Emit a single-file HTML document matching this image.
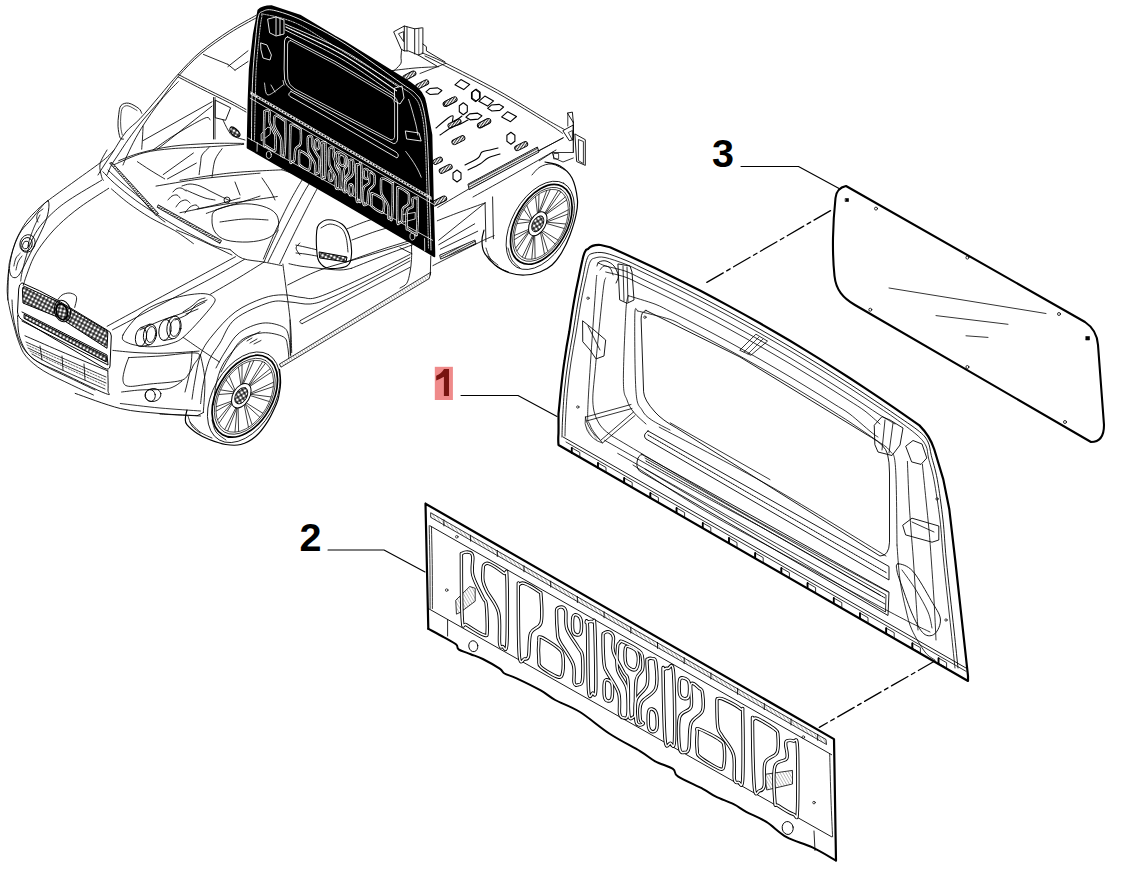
<!DOCTYPE html>
<html><head><meta charset="utf-8"><style>
html,body{margin:0;padding:0;background:#fff;width:1122px;height:870px;overflow:hidden}
svg{display:block}
.nss *{vector-effect:non-scaling-stroke}
.t{font-family:"Liberation Sans",sans-serif;font-weight:bold;font-size:39.5px}
</style></head><body>
<svg width="1122" height="870" viewBox="0 0 1122 870" fill="none" stroke="#000" stroke-width="1" stroke-linejoin="round" stroke-linecap="round">
<defs>
<pattern stroke="none" id="mesh" width="3.8" height="3.8" patternUnits="userSpaceOnUse" patternTransform="rotate(28)">
<rect width="3.8" height="3.8" fill="#222"/><circle cx="1.9" cy="1.9" r="1.4" fill="#fff"/>
</pattern>
<pattern stroke="none" id="hatch" width="2.2" height="2.2" patternUnits="userSpaceOnUse" patternTransform="rotate(62)">
<rect width="2.2" height="2.2" fill="#fff"/><rect width="1" height="2.2" fill="#333"/>
</pattern>
<pattern stroke="none" id="hatchl" width="2.6" height="2.6" patternUnits="userSpaceOnUse" patternTransform="rotate(-30)">
<rect width="2.6" height="2.6" fill="#fff"/><rect width="0.6" height="2.6" fill="#999"/>
</pattern>
</defs>
<g id="car">
<path d="M114.0,150.0 C112.2,151.7 109.9,155.1 103.4,160.3 C96.9,165.5 84.5,174.1 75.0,181.0 C65.5,187.9 53.4,196.4 46.6,201.7 C39.8,207.0 37.5,209.6 34.0,213.0 C30.6,216.4 28.6,218.6 25.9,222.4 C23.2,226.2 20.0,232.0 18.0,236.0 C16.0,240.0 15.1,242.6 13.8,246.6 C12.5,250.6 10.9,256.0 10.0,260.0 C9.1,264.0 9.0,264.0 8.6,270.7 C8.2,277.4 7.9,295.1 7.8,300.0" stroke="#000" stroke-width="0.85" fill="none"/>
<path d="M107.0,150.0 C105.8,152.3 100.9,159.6 100.0,164.0 C99.1,168.4 101.0,174.0 101.6,176.7 C102.2,179.4 103.1,179.7 103.4,180.3" stroke="#000" stroke-width="0.85" fill="none"/>
<path d="M101.7,180.2 C96.2,183.5 77.3,194.4 69.0,200.0 C60.7,205.6 56.9,208.9 51.7,213.8 C46.5,218.7 41.6,223.8 37.9,229.3 C34.2,234.8 31.9,239.7 29.3,246.6 C26.7,253.5 23.8,265.0 22.4,270.7 C21.0,276.4 21.0,279.3 20.7,281.0" stroke="#000" stroke-width="0.85" fill="none"/>
<path d="M108.7,188.3 C104.0,191.4 88.5,200.9 80.2,207.0 C71.9,213.1 64.7,219.2 58.8,224.9 C52.9,230.6 48.8,235.6 44.6,240.9 C40.5,246.2 36.9,251.3 33.9,257.0 C30.9,262.6 28.5,270.1 26.7,274.8 C24.9,279.6 23.8,283.7 23.2,285.5" stroke="#000" stroke-width="0.85" fill="none"/>
<path d="M102.9,171.7 C104.8,173.6 108.9,178.4 114.4,183.2 C119.9,188.0 128.7,195.2 135.9,200.5 C143.1,205.8 150.3,210.2 157.5,214.8 C164.7,219.4 171.8,223.7 179.0,227.8 C186.2,231.9 194.6,236.2 200.6,239.2 C206.6,242.2 210.1,244.3 215.0,246.0 C219.9,247.7 227.6,249.0 230.1,249.6" stroke="#000" stroke-width="0.85" fill="none"/>
<path d="M111.5,189.0 C114.4,191.4 122.2,198.5 128.7,203.3 C135.2,208.1 142.6,213.1 150.3,217.7 C158.0,222.2 167.5,226.3 174.7,230.6 C181.9,234.9 190.3,241.4 193.4,243.6" stroke="#000" stroke-width="0.85" fill="none"/>
<path d="M110,163 L112,162.5 L158.5,213.5 L156.5,215.5 Z" stroke="#000" stroke-width="0.8" fill="url(#hatch)"/>
<path d="M158.5,205 L221.5,240.5 L220,243.5 L157.5,207.5 Z" stroke="#000" stroke-width="0.8" fill="url(#hatch)"/>
<path d="M108.0,170.0 C110.3,172.2 116.7,178.3 122.0,183.0 C127.3,187.7 134.1,192.5 140.0,198.0 C145.9,203.5 153.3,212.0 157.5,216.0 C161.7,220.0 163.8,221.0 165.0,222.0" stroke="#000" stroke-width="0.85" fill="none"/>
<path d="M48.1,200.8 C47.0,200.4 44.5,203.4 41.8,206.5 C39.0,209.6 35.0,215.1 31.6,219.1 C28.2,223.1 24.2,226.5 21.5,230.5 C18.8,234.5 16.9,239.0 15.2,243.2 C13.5,247.4 12.3,251.6 11.4,255.8 C10.5,260.0 9.5,265.1 9.5,268.5 C9.5,271.9 10.2,274.6 11.4,276.1 C12.6,277.6 14.8,278.2 16.5,277.3 C18.2,276.4 19.2,275.0 21.5,271.0 C23.8,267.0 27.6,258.8 30.4,253.3 C33.1,247.8 35.5,243.4 38.0,238.1 C40.5,232.8 43.8,226.4 45.6,221.6 C47.4,216.8 48.3,212.5 48.7,209.0 C49.1,205.5 49.2,201.2 48.1,200.8 Z" stroke="#000" stroke-width="0.9" fill="none"/>
<path d="M43.0,209.0 C42.2,209.7 39.0,211.5 38.0,213.0 C37.0,214.5 36.7,216.5 36.7,218.0 C36.7,219.5 37.8,221.3 38.0,222.0" stroke="#000" stroke-width="0.8" fill="none"/>
<path d="M40.0,215.0 C39.2,216.7 36.7,221.2 35.0,225.0 C33.3,228.8 31.2,234.5 30.0,238.0 C28.8,241.5 28.3,244.7 28.0,246.0" stroke="#000" stroke-width="0.8" fill="none"/>
<ellipse cx="26.6" cy="244.4" rx="5.5" ry="7.0" transform="rotate(20.0 26.6 244.4)" stroke="#000" stroke-width="0.9" fill="none"/>
<ellipse cx="25.8" cy="245.0" rx="3.0" ry="4.0" transform="rotate(20.0 25.8 245.0)" stroke="#000" stroke-width="0.8" fill="none"/>
<ellipse cx="27.5" cy="243.5" rx="7.5" ry="9.0" transform="rotate(20.0 27.5 243.5)" stroke="#000" stroke-width="0.8" fill="none"/>
<path d="M13.9,266.0 C14.2,264.7 14.9,260.1 16.0,258.0 C17.1,255.9 19.5,254.1 20.2,253.3" stroke="#000" stroke-width="0.8" fill="none"/>
<path d="M16.0,270.0 C16.3,268.7 17.0,264.3 18.0,262.0 C19.0,259.7 21.3,257.0 22.0,256.0" stroke="#000" stroke-width="0.8" fill="none"/>
<path d="M256.3,15.2 C251.9,17.8 239.0,24.5 229.8,30.5 C220.6,36.5 209.6,44.1 201.0,51.3 C192.4,58.5 185.4,66.3 178.5,73.8 C171.6,81.3 165.7,88.8 159.3,96.3 C152.9,103.8 145.6,112.8 140.0,118.7 C134.4,124.7 130.4,126.5 125.9,132.0 C121.4,137.6 116.5,146.5 112.9,152.0 C109.3,157.5 106.8,161.2 104.3,165.0 C101.8,168.8 99.0,173.3 98.0,175.0" stroke="#000" stroke-width="0.85" fill="none"/>
<path d="M256.3,17.8 C251.9,20.3 239.0,27.0 229.8,33.0 C220.6,39.0 209.6,46.5 201.0,53.7 C192.4,60.9 185.2,68.6 178.5,76.2 C171.8,83.8 166.8,92.2 160.9,99.5 C155.0,106.8 148.4,113.4 143.0,120.0 C137.6,126.6 133.0,132.9 128.7,138.9 C124.4,144.9 120.1,151.8 117.2,156.2 C114.3,160.5 113.2,161.9 111.5,165.0 C109.8,168.1 107.8,173.3 107.0,175.0" stroke="#000" stroke-width="0.85" fill="none"/>
<path d="M178.3,81.7 C175.8,84.3 168.3,91.3 163.2,97.5 C158.0,103.7 151.9,112.3 147.4,119.0 C142.9,125.7 139.2,131.7 135.9,137.7 C132.6,143.7 129.4,150.4 127.3,155.0 C125.1,159.6 123.7,163.3 123.0,165.0" stroke="#000" stroke-width="0.85" fill="none"/>
<path d="M178.3,74.5 C182.0,76.4 192.1,81.7 200.6,86.0 C209.1,90.3 221.7,96.4 229.3,100.3 C236.9,104.2 243.2,108.0 246.0,109.5" stroke="#000" stroke-width="0.85" fill="none"/>
<path d="M178.3,77.0 C182.0,78.9 192.1,84.2 200.6,88.5 C209.1,92.8 221.7,98.9 229.3,102.8 C236.9,106.7 243.2,110.5 246.0,112.0" stroke="#000" stroke-width="0.85" fill="none"/>
<path d="M203.4,54.4 L227.9,64.4" stroke="#000" stroke-width="0.85" fill="none"/>
<path d="M227.9,66.6 L248.0,50.8" stroke="#000" stroke-width="0.85" fill="none"/>
<path d="M235.0,70.2 L248.0,61.5" stroke="#000" stroke-width="0.85" fill="none"/>
<path d="M227.9,64.4 L235.0,70.2" stroke="#000" stroke-width="0.85" fill="none"/>
<path d="M141.7,113.3 C141.2,112.5 141.0,110.2 138.8,108.5 C136.6,106.8 131.7,103.7 128.7,103.2 C125.7,102.7 122.7,103.6 121.0,105.5 C119.3,107.4 119.2,111.2 118.7,114.7 C118.2,118.2 117.8,122.4 118.0,126.2 C118.2,130.0 119.2,135.6 120.1,137.7 C121.0,139.8 122.9,138.8 123.5,139.0" stroke="#000" stroke-width="0.9" fill="none"/>
<path d="M137.0,110.5 C135.5,109.7 130.4,106.2 128.0,105.8 C125.6,105.4 123.7,106.3 122.5,108.0 C121.3,109.7 121.1,112.8 120.8,116.0 C120.5,119.2 120.5,123.8 120.8,127.0 C121.0,130.2 122.0,133.7 122.3,135.0" stroke="#000" stroke-width="0.7" fill="none"/>
<path d="M143.1,126.2 C143.0,128.2 142.7,134.2 142.5,138.0 C142.3,141.8 141.8,147.3 141.7,149.2" stroke="#000" stroke-width="0.85" fill="none"/>
<path d="M143.1,140.6 L212.0,101.8" stroke="#000" stroke-width="0.85" fill="none"/>
<path d="M157.5,149.2 L212.0,106.1" stroke="#000" stroke-width="0.85" fill="none"/>
<path d="M153.0,150.0 C155.8,148.0 163.8,142.0 170.0,138.0 C176.2,134.0 183.9,129.4 190.0,126.0 C196.1,122.6 203.0,118.6 206.3,117.6 C209.6,116.6 209.4,119.6 210.0,120.0" stroke="#000" stroke-width="0.85" fill="none"/>
<path d="M213.5,97.5 L213.5,139.0" stroke="#000" stroke-width="0.85" fill="none"/>
<path d="M215.0,97.5 L215.0,139.0" stroke="#000" stroke-width="0.85" fill="none"/>
<path d="M215.5,100.3 L230.6,107.8 L225.6,120.3 L215.5,117.8 Z" stroke="#000" stroke-width="0.9" fill="none"/>
<path d="M118.7,160.7 C122.2,159.4 131.2,155.4 140.0,153.0 C148.8,150.6 160.1,147.9 171.8,146.3 C183.5,144.7 198.0,144.0 210.0,143.5 C222.0,143.0 238.1,143.4 243.7,143.4" stroke="#000" stroke-width="0.85" fill="none"/>
<path d="M231.0,127.0 C232.0,126.7 234.5,127.8 236.0,129.0 C237.5,130.2 239.7,132.7 240.0,134.0 C240.3,135.3 239.2,136.8 238.0,137.0 C236.8,137.2 234.3,136.0 233.0,135.0 C231.7,134.0 230.3,132.3 230.0,131.0 C229.7,129.7 230.0,127.3 231.0,127.0 Z" stroke="#000" stroke-width="1.1" fill="url(#mesh)"/>
<path d="M223.0,120.0 C223.8,121.7 226.3,127.3 228.0,130.0 C229.7,132.7 230.2,134.3 233.0,136.0 C235.8,137.7 243.0,139.3 245.0,140.0" stroke="#000" stroke-width="0.85" fill="none"/>
<path d="M114.4,164.5 C119.2,162.6 133.5,155.6 143.1,153.0 C152.7,150.4 162.2,149.6 171.8,148.7 C181.4,147.8 188.6,148.0 200.6,147.3 C212.6,146.6 236.5,144.9 243.7,144.4" stroke="#000" stroke-width="0.85" fill="none"/>
<path d="M156.0,186.1 C163.4,184.9 186.0,180.8 200.6,178.9 C215.2,177.0 233.8,175.6 243.7,174.6 C253.6,173.6 257.3,173.4 260.0,173.2" stroke="#000" stroke-width="0.85" fill="none"/>
<path d="M137.4,161.7 C139.5,163.1 145.4,167.1 150.0,170.0 C154.6,172.9 162.2,177.4 164.7,178.9" stroke="#000" stroke-width="0.85" fill="none"/>
<path d="M163.2,174.6 L193.4,153.0" stroke="#000" stroke-width="0.85" fill="none"/>
<path d="M167.5,178.9 L196.3,163.1" stroke="#000" stroke-width="0.85" fill="none"/>
<path d="M209.2,147.3 C208.0,148.6 203.4,152.4 202.0,155.0 C200.6,157.6 201.1,159.8 200.6,163.1 C200.1,166.4 199.3,172.7 199.1,174.6" stroke="#000" stroke-width="0.85" fill="none"/>
<path d="M222.1,148.7 C220.9,150.6 216.7,155.2 215.0,160.0 C213.3,164.8 212.5,174.6 212.0,177.5" stroke="#000" stroke-width="0.85" fill="none"/>
<path d="M173.0,192.0 C173.5,191.5 174.7,189.7 176.0,189.0 C177.3,188.3 179.3,187.7 181.0,188.0 C182.7,188.3 185.2,190.5 186.0,191.0" stroke="#000" stroke-width="0.85" fill="none"/>
<path d="M168.0,200.0 C168.7,199.3 170.5,196.8 172.0,196.0 C173.5,195.2 175.7,194.7 177.0,195.0 C178.3,195.3 179.5,197.5 180.0,198.0" stroke="#000" stroke-width="0.85" fill="none"/>
<path d="M176.0,207.0 C176.7,206.2 178.3,203.2 180.0,202.0 C181.7,200.8 184.3,199.8 186.0,200.0 C187.7,200.2 189.3,202.5 190.0,203.0" stroke="#000" stroke-width="0.85" fill="none"/>
<path d="M185.0,213.0 C185.8,212.0 188.2,208.3 190.0,207.0 C191.8,205.7 194.5,204.8 196.0,205.0 C197.5,205.2 198.5,207.5 199.0,208.0" stroke="#000" stroke-width="0.85" fill="none"/>
<path d="M182.0,186.0 C183.3,185.7 187.0,184.0 190.0,184.0 C193.0,184.0 196.7,184.8 200.0,186.0 C203.3,187.2 206.7,189.3 210.0,191.0 C213.3,192.7 216.8,194.4 220.0,196.0 C223.2,197.6 227.8,199.8 229.3,200.5" stroke="#000" stroke-width="0.85" fill="none"/>
<path d="M186.0,190.0 C187.5,190.7 191.8,192.7 195.0,194.0 C198.2,195.3 201.7,197.0 205.0,198.0 C208.3,199.0 213.3,199.7 215.0,200.0" stroke="#000" stroke-width="0.85" fill="none"/>
<path d="M206.3,213.4 C209.4,212.3 218.6,209.1 225.0,207.0 C231.4,204.9 239.2,202.8 245.0,201.0 C250.8,199.2 257.5,196.9 260.0,196.1" stroke="#000" stroke-width="0.85" fill="none"/>
<path d="M197.0,209.0 C200.0,208.3 207.8,206.8 215.0,205.0 C222.2,203.2 235.8,199.2 240.0,198.0" stroke="#000" stroke-width="0.85" fill="none"/>
<circle cx="227.0" cy="200.0" r="3.0" stroke="#000" stroke-width="0.85" fill="none"/>
<path d="M21.6,283 Q19,284 18.7,289 L17.5,312 Q18,318 24,321 L104,368 Q109.5,371 110,366 L111.3,336 Q111.5,332 107,330 L57.5,300.2 L40,291 Z" stroke="#000" stroke-width="1" fill="none"/>
<path d="M24,286.5 Q22,287 22.5,292 L23,303 L60,318 L107,348.3 L107.8,333 Q108,331 105,329.5 L72,310 L57.5,301.5 Z" stroke="#000" stroke-width="1" fill="url(#mesh)"/>
<path d="M24.4,314.5 L106.3,356.2 L106.3,362 L24.4,318.5 Z" stroke="#000" stroke-width="1" fill="url(#mesh)"/>
<path d="M22,312 L107,355 L108,365 L22,321" stroke="#000" stroke-width="1" fill="none"/>
<ellipse cx="61.8" cy="311.7" rx="5.5" ry="8.0" transform="rotate(-15.0 61.8 311.7)" stroke="#000" stroke-width="1.8" fill="url(#mesh)"/>
<ellipse cx="62.5" cy="311.0" rx="8.0" ry="11.0" transform="rotate(-15.0 62.5 311.0)" stroke="#000" stroke-width="1" fill="none"/>
<path d="M57.5,300.2 C58.2,299.3 60.1,296.2 62.0,295.0 C63.9,293.8 66.8,293.0 69.0,293.0 C71.2,293.0 73.7,294.0 75.0,295.0 C76.3,296.0 76.6,296.9 76.6,299.0 C76.5,301.1 75.0,306.0 74.7,307.4" stroke="#000" stroke-width="0.85" fill="none"/>
<path d="M8.6,270.0 C8.4,273.6 7.0,284.8 7.2,291.5 C7.4,298.2 8.8,304.2 10.0,310.2 C11.2,316.2 13.0,322.2 14.4,327.5 C15.8,332.8 16.8,337.0 18.7,341.8 C20.6,346.6 21.8,351.4 25.9,356.2 C30.0,361.0 35.5,365.8 43.1,370.6 C50.8,375.4 63.4,380.9 71.8,385.0 C80.2,389.1 89.8,393.3 93.4,395.0" stroke="#000" stroke-width="0.85" fill="none"/>
<path d="M12.0,300.0 C12.2,302.5 12.3,310.0 13.0,315.0 C13.7,320.0 14.7,325.2 16.0,330.0 C17.3,334.8 18.7,339.7 21.0,344.0 C23.3,348.3 26.0,352.3 30.0,356.0 C34.0,359.7 38.3,362.3 45.0,366.0 C51.7,369.7 61.7,374.0 70.0,378.0 C78.3,382.0 90.8,388.0 95.0,390.0" stroke="#000" stroke-width="0.85" fill="none"/>
<path d="M17.5,315.7 C17.9,319.5 17.5,331.2 20.0,338.3 C22.5,345.4 25.5,352.5 32.6,358.3 C39.7,364.1 50.6,367.5 62.7,373.4 C74.8,379.2 97.8,390.6 105.3,393.4 C112.8,396.2 107.6,393.8 108.0,390.0 C108.4,386.2 107.8,374.1 107.8,370.9" stroke="#000" stroke-width="0.9" fill="none"/>
<path d="M25.0,335.8 C30.8,338.3 46.2,345.1 60.0,351.0 C73.8,356.9 99.8,367.6 107.8,370.9" stroke="#000" stroke-width="0.9" fill="none"/>
<path d="M26.0,342.0 C31.7,344.5 46.7,351.2 60.0,357.0 C73.3,362.8 98.3,373.7 106.0,377.0" stroke="#000" stroke-width="0.8" fill="none"/>
<path d="M28.0,348.0 C33.3,350.5 47.0,357.2 60.0,363.0 C73.0,368.8 98.3,379.7 106.0,383.0" stroke="#000" stroke-width="0.8" fill="none"/>
<path d="M32.0,354.0 C36.7,356.5 47.8,363.2 60.0,369.0 C72.2,374.8 97.5,385.7 105.0,389.0" stroke="#000" stroke-width="0.8" fill="none"/>
<path d="M27.0,345.0 L106.0,380.0" stroke="#000" stroke-width="0.6" fill="none" stroke-dasharray="1.5,1.5"/>
<path d="M30.0,351.0 L106.0,386.0" stroke="#000" stroke-width="0.6" fill="none" stroke-dasharray="1.5,1.5"/>
<path d="M40.0,346.0 L42.0,360.0" stroke="#000" stroke-width="0.8" fill="none"/>
<path d="M62.0,356.0 L63.0,370.0" stroke="#000" stroke-width="0.8" fill="none"/>
<path d="M84.0,364.0 L85.0,380.0" stroke="#000" stroke-width="0.8" fill="none"/>
<path d="M75.2,393.4 C82.7,395.9 106.2,405.1 120.3,408.5 C134.4,411.9 146.6,412.2 160.0,413.5 C173.4,414.8 193.8,415.6 200.5,416.0" stroke="#000" stroke-width="0.9" fill="none"/>
<path d="M120.3,403.5 C126.9,404.2 146.6,406.8 160.0,408.0 C173.4,409.2 193.8,410.5 200.5,411.0" stroke="#000" stroke-width="0.8" fill="none"/>
<path d="M123.0,335.0 C125.4,329.7 135.0,317.7 143.1,311.6 C151.2,305.6 162.2,301.7 171.8,298.7 C181.4,295.7 193.7,293.9 200.6,293.6 C207.5,293.4 211.6,295.1 213.5,297.2 C215.4,299.2 216.6,299.7 212.0,305.9 C207.4,312.1 192.9,328.4 186.2,334.6 C179.5,340.8 177.8,341.2 171.8,343.2 C165.8,345.2 157.5,346.8 150.3,346.8 C143.1,346.8 133.2,345.2 128.7,343.2 C124.1,341.2 120.6,340.3 123.0,335.0 Z" stroke="#000" stroke-width="0.85" fill="none"/>
<path d="M140.0,330.0 C143.3,328.5 152.5,324.0 160.0,321.0 C167.5,318.0 177.5,315.2 185.0,312.0 C192.5,308.8 201.7,303.7 205.0,302.0" stroke="#000" stroke-width="0.85" fill="none"/>
<path d="M175.0,320.0 C177.2,319.0 184.5,316.5 188.0,314.0 C191.5,311.5 192.8,307.3 196.0,305.0 C199.2,302.7 205.2,300.8 207.0,300.0" stroke="#000" stroke-width="0.85" fill="none"/>
<path d="M183.0,312.0 C184.5,311.0 189.3,308.0 192.0,306.0 C194.7,304.0 196.8,301.3 199.0,300.0 C201.2,298.7 204.0,298.3 205.0,298.0" stroke="#000" stroke-width="0.85" fill="none"/>
<path d="M186.0,314.0 L198.0,309.0" stroke="#000" stroke-width="0.85" fill="none"/>
<ellipse cx="141.0" cy="337.0" rx="5.5" ry="9.5" transform="rotate(10.0 141.0 337.0)" stroke="#000" stroke-width="0.9" fill="none"/>
<ellipse cx="150.0" cy="334.5" rx="6.5" ry="10.5" transform="rotate(10.0 150.0 334.5)" stroke="#000" stroke-width="0.9" fill="none"/>
<ellipse cx="151.0" cy="334.5" rx="4.5" ry="8.0" transform="rotate(10.0 151.0 334.5)" stroke="#000" stroke-width="0.8" fill="none"/>
<path d="M141.0,327.5 L150.0,324.0" stroke="#000" stroke-width="0.8" fill="none"/>
<path d="M141.0,346.5 L149.0,345.0" stroke="#000" stroke-width="0.8" fill="none"/>
<ellipse cx="165.0" cy="330.0" rx="6.0" ry="10.5" transform="rotate(10.0 165.0 330.0)" stroke="#000" stroke-width="0.9" fill="none"/>
<ellipse cx="174.0" cy="327.5" rx="7.0" ry="11.5" transform="rotate(10.0 174.0 327.5)" stroke="#000" stroke-width="0.9" fill="none"/>
<ellipse cx="175.0" cy="327.5" rx="5.0" ry="9.0" transform="rotate(10.0 175.0 327.5)" stroke="#000" stroke-width="0.8" fill="none"/>
<path d="M165.0,319.5 L174.0,316.0" stroke="#000" stroke-width="0.8" fill="none"/>
<path d="M164.0,340.5 L172.0,339.0" stroke="#000" stroke-width="0.8" fill="none"/>
<path d="M183.3,337.5 C186.1,339.4 194.0,344.9 200.0,349.0 C206.0,353.1 216.1,359.8 219.3,361.9" stroke="#000" stroke-width="0.85" fill="none"/>
<path d="M192.0,399.2 C192.5,396.0 193.6,387.4 195.0,380.0 C196.4,372.6 197.8,362.0 200.6,354.7 C203.4,347.4 206.2,343.1 212.0,336.0 C217.8,328.9 226.7,318.3 235.2,312.0 C243.7,305.7 254.8,301.2 262.8,298.3 C270.8,295.4 276.9,294.9 283.4,294.8 C289.9,294.7 296.2,297.1 302.0,297.5 C307.8,297.9 308.6,300.1 318.3,297.0 C328.0,293.9 344.7,286.1 360.0,279.0 C375.3,271.9 401.7,258.6 410.0,254.5" stroke="#000" stroke-width="0.85" fill="none"/>
<path d="M200.6,403.6 C201.0,400.5 201.6,392.2 203.0,385.0 C204.4,377.8 206.4,367.5 209.2,360.5 C212.0,353.5 215.7,349.9 220.0,343.0 C224.3,336.1 226.9,325.8 235.2,319.0 C243.5,312.2 260.6,305.2 269.7,302.4 C278.8,299.6 283.2,301.7 290.0,302.0 C296.8,302.3 303.5,304.7 310.2,304.0 C316.9,303.3 320.0,302.2 330.0,298.0 C340.0,293.8 356.7,285.7 370.0,279.0 C383.3,272.3 403.3,261.2 410.0,257.7" stroke="#000" stroke-width="0.85" fill="none"/>
<path d="M213.5,405.0 C213.9,401.7 214.6,391.5 216.0,385.0 C217.4,378.5 219.3,371.7 222.0,366.2 C224.7,360.7 228.4,356.3 232.0,352.0 C235.6,347.7 239.0,343.7 243.7,340.3 C248.4,336.9 257.3,333.1 260.0,331.7" stroke="#000" stroke-width="0.85" fill="none"/>
<path d="M112.9,350.4 C116.6,350.8 127.6,352.0 135.0,352.5 C142.4,353.0 150.0,353.3 157.5,353.3 C165.0,353.3 173.1,352.9 180.0,352.5 C186.9,352.1 195.9,351.3 199.1,351.1" stroke="#000" stroke-width="0.85" fill="none"/>
<path d="M128.7,357.6 C133.9,357.3 148.5,356.7 160.0,356.0 C171.5,355.3 192.2,351.6 197.7,353.3 C203.2,355.0 194.4,362.6 193.0,366.0 C191.6,369.4 191.1,371.0 189.0,373.4 C186.9,375.8 187.0,378.8 180.5,380.6 C174.0,382.4 158.6,383.1 150.0,384.0 C141.4,384.9 133.2,386.9 128.7,386.3 C124.2,385.7 123.6,383.7 123.0,380.6 C122.4,377.6 124.0,371.8 125.0,368.0 C126.0,364.2 128.1,359.3 128.7,357.6" stroke="#000" stroke-width="0.85" fill="none"/>
<path d="M121.6,392.0 C124.7,391.7 132.8,390.5 140.0,390.0 C147.2,389.5 158.9,389.9 164.7,389.2 C170.5,388.5 172.1,387.4 175.0,386.0 C177.9,384.6 180.8,381.8 182.0,381.0" stroke="#000" stroke-width="0.85" fill="none"/>
<ellipse cx="150.3" cy="395.5" rx="5.0" ry="6.0" transform="rotate(-10.0 150.3 395.5)" stroke="#000" stroke-width="0.85" fill="none"/>
<ellipse cx="153.0" cy="395.0" rx="8.0" ry="6.5" transform="rotate(-10.0 153.0 395.0)" stroke="#000" stroke-width="0.85" fill="none"/>
<path d="M192.0,351.8 C191.8,354.0 191.7,360.3 191.0,365.0 C190.3,369.7 189.0,375.5 188.0,380.0 C187.0,384.5 185.5,390.0 185.0,392.0" stroke="#000" stroke-width="0.85" fill="none"/>
<path d="M279.5,369.3 C279.7,371.5 280.7,378.4 280.6,382.7 C280.5,387.0 279.7,391.5 279.0,395.0 C278.3,398.5 278.4,399.3 276.5,403.7 C274.6,408.1 271.1,416.1 267.6,421.6 C264.1,427.1 260.1,432.7 255.6,436.5 C251.1,440.3 245.7,443.2 240.7,444.5 C235.7,445.8 230.9,445.3 225.7,444.5 C220.5,443.7 214.0,441.3 209.3,439.5 C204.6,437.7 201.0,436.0 197.3,433.5 C193.6,431.0 188.9,427.1 186.9,424.6 C184.9,422.1 185.4,421.0 185.4,418.6 C185.4,416.2 186.7,411.4 187.0,410.0" stroke="#000" stroke-width="1.2" fill="none"/>
<path d="M190.0,422.0 C191.7,423.7 196.3,429.3 200.0,432.0 C203.7,434.7 210.0,437.0 212.0,438.0" stroke="#000" stroke-width="0.8" fill="none"/>
<path d="M188.0,416.0 C188.7,417.7 190.0,423.2 192.0,426.0 C194.0,428.8 198.7,431.8 200.0,433.0" stroke="#000" stroke-width="0.8" fill="none"/>
<path d="M212.0,420.0 C212.7,422.0 213.7,428.7 216.0,432.0 C218.3,435.3 224.3,438.7 226.0,440.0" stroke="#000" stroke-width="0.8" fill="none"/>
<ellipse cx="243.8" cy="397.2" rx="49.3" ry="30.9" transform="rotate(-60.0 243.8 397.2)" stroke="#000" stroke-width="0.8" fill="none"/>
<ellipse cx="244.8" cy="396.2" rx="44.4" ry="27.8" transform="rotate(-60.0 244.8 396.2)" stroke="#000" stroke-width="1.7" fill="none"/>
<ellipse cx="244.8" cy="396.2" rx="41.3" ry="25.9" transform="rotate(-60.0 244.8 396.2)" stroke="#000" stroke-width="0.7" fill="none"/>
<ellipse cx="244.8" cy="396.2" rx="39.1" ry="24.5" transform="rotate(-60.0 244.8 396.2)" stroke="#000" stroke-width="0.6" fill="none"/>
<path d="M248.8,384.6 L262.5,361.9 M265.2,363.5 L249.5,385.2" stroke="#000" stroke-width="0.75"/>
<path d="M249.7,385.4 L270.1,368.8 M271.6,372.0 L250.3,386.1" stroke="#000" stroke-width="0.75"/>
<path d="M251.4,392.7 L273.3,382.3 M273.1,386.7 L251.2,394.0" stroke="#000" stroke-width="0.75"/>
<path d="M251.1,394.4 L270.9,396.9 M269.1,401.5 L250.7,395.7" stroke="#000" stroke-width="0.75"/>
<path d="M246.6,403.1 L262.6,413.1 M259.6,417.0 L245.6,404.2" stroke="#000" stroke-width="0.75"/>
<path d="M245.4,404.4 L252.0,424.4 M248.4,427.0 L244.3,405.3" stroke="#000" stroke-width="0.75"/>
<path d="M238.1,408.0 L238.6,431.2 M235.0,431.7 L237.1,408.0" stroke="#000" stroke-width="0.75"/>
<path d="M236.8,407.9 L227.8,430.7 M224.9,429.3 L235.9,407.7" stroke="#000" stroke-width="0.75"/>
<path d="M232.3,403.7 L219.2,422.9 M217.8,419.7 L232.0,402.6" stroke="#000" stroke-width="0.75"/>
<path d="M232.0,402.3 L216.3,411.0 M216.4,406.7 L231.8,401.1" stroke="#000" stroke-width="0.75"/>
<path d="M233.5,393.3 L219.1,394.5 M220.9,389.9 L234.2,392.0" stroke="#000" stroke-width="0.75"/>
<path d="M234.4,391.7 L226.3,380.2 M229.3,376.2 L235.1,390.4" stroke="#000" stroke-width="0.75"/>
<path d="M240.9,384.8 L238.4,367.4 M242.0,364.9 L242.0,384.3" stroke="#000" stroke-width="0.75"/>
<path d="M242.3,384.2 L250.2,361.4 M253.8,360.7 L243.3,383.8" stroke="#000" stroke-width="0.75"/>
<ellipse cx="241.3" cy="395.7" rx="13.3" ry="8.3" transform="rotate(-60.0 241.3 395.7)" stroke="#000" stroke-width="1.0" fill="#fff"/>
<ellipse cx="241.3" cy="395.7" rx="8.9" ry="5.6" transform="rotate(-60.0 241.3 395.7)" stroke="#000" stroke-width="0.8" fill="url(#mesh)"/>
<path d="M216.0,368.0 C217.5,365.3 221.1,357.9 225.0,352.0 C228.9,346.1 233.0,337.6 239.3,332.8 C245.6,328.0 255.5,324.0 262.8,323.1 C270.1,322.2 279.0,324.7 283.4,327.2 C287.8,329.7 287.9,333.7 289.0,338.3 C290.1,342.9 290.1,352.1 290.3,354.8" stroke="#000" stroke-width="0.85" fill="none"/>
<path d="M221.0,372.0 C222.5,369.3 226.5,361.4 230.0,356.0 C233.5,350.6 236.5,343.6 242.0,339.7 C247.5,335.8 255.9,333.3 262.8,332.8 C269.7,332.3 279.3,334.6 283.4,336.9 C287.5,339.2 286.7,342.7 287.6,346.6 C288.5,350.5 288.8,358.0 289.0,360.3" stroke="#000" stroke-width="0.85" fill="none"/>
<path d="M197.3,415.6 L203.3,412.6" stroke="#000" stroke-width="0.85" fill="none"/>
<path d="M160.0,414.1 C163.3,414.2 173.8,414.8 180.0,415.0 C186.2,415.2 194.4,415.5 197.3,415.6" stroke="#000" stroke-width="0.85" fill="none"/>
<path d="M200.3,354.4 C201.1,358.6 204.3,370.1 204.8,379.8 C205.3,389.5 203.6,407.1 203.3,412.6" stroke="#000" stroke-width="0.85" fill="none"/>
<path d="M290.0,320.0 L290.7,355.9" stroke="#000" stroke-width="0.85" fill="none"/>
<path d="M545.0,162.0 C547.5,162.7 555.5,163.3 560.0,166.0 C564.5,168.7 569.1,172.4 572.0,178.0 C574.9,183.6 576.7,193.1 577.4,199.3 C578.1,205.5 577.2,209.1 576.0,215.0 C574.8,220.9 572.3,228.8 570.0,235.0 C567.7,241.2 565.0,247.0 562.0,252.0 C559.0,257.0 555.7,261.7 552.0,265.0 C548.3,268.3 544.5,270.3 540.0,272.0 C535.5,273.7 530.0,274.8 525.0,275.0 C520.0,275.2 515.0,274.7 510.0,273.0 C505.0,271.3 499.3,268.5 495.0,265.0 C490.7,261.5 486.2,256.2 484.0,252.0 C481.8,247.8 482.0,243.7 482.0,240.0 C482.0,236.3 483.7,231.7 484.0,230.0" stroke="#000" stroke-width="1.2" fill="none"/>
<path d="M488.0,256.0 C489.3,257.7 492.7,263.3 496.0,266.0 C499.3,268.7 506.0,271.0 508.0,272.0" stroke="#000" stroke-width="0.8" fill="none"/>
<path d="M486.0,248.0 C486.7,249.7 488.0,255.2 490.0,258.0 C492.0,260.8 496.7,263.8 498.0,265.0" stroke="#000" stroke-width="0.8" fill="none"/>
<path d="M508.0,248.0 C508.7,250.0 510.0,256.7 512.0,260.0 C514.0,263.3 518.7,266.7 520.0,268.0" stroke="#000" stroke-width="0.8" fill="none"/>
<ellipse cx="540.3" cy="225.3" rx="48.1" ry="28.5" transform="rotate(-60.8 540.3 225.3)" stroke="#000" stroke-width="0.8" fill="none"/>
<ellipse cx="541.3" cy="224.3" rx="43.3" ry="25.7" transform="rotate(-60.8 541.3 224.3)" stroke="#000" stroke-width="1.7" fill="none"/>
<ellipse cx="541.3" cy="224.3" rx="40.3" ry="23.9" transform="rotate(-60.8 541.3 224.3)" stroke="#000" stroke-width="0.7" fill="none"/>
<ellipse cx="541.3" cy="224.3" rx="38.1" ry="22.6" transform="rotate(-60.8 541.3 224.3)" stroke="#000" stroke-width="0.6" fill="none"/>
<path d="M545.0,212.8 L558.2,190.7 M560.7,192.1 L545.6,213.4" stroke="#000" stroke-width="0.75"/>
<path d="M545.8,213.6 L565.2,197.0 M566.6,200.0 L546.3,214.3" stroke="#000" stroke-width="0.75"/>
<path d="M547.3,220.6 L568.1,209.9 M567.9,214.1 L547.1,221.9" stroke="#000" stroke-width="0.75"/>
<path d="M547.0,222.2 L565.7,224.0 M564.1,228.5 L546.6,223.5" stroke="#000" stroke-width="0.75"/>
<path d="M542.7,230.8 L557.9,240.0 M555.0,243.9 L541.8,231.8" stroke="#000" stroke-width="0.75"/>
<path d="M541.5,232.1 L547.8,251.2 M544.4,253.8 L540.6,233.0" stroke="#000" stroke-width="0.75"/>
<path d="M534.7,235.8 L535.1,258.2 M531.8,258.9 L533.8,235.8" stroke="#000" stroke-width="0.75"/>
<path d="M533.5,235.8 L525.0,258.1 M522.4,256.9 L532.7,235.6" stroke="#000" stroke-width="0.75"/>
<path d="M529.3,231.8 L517.1,250.9 M515.8,247.8 L529.1,230.8" stroke="#000" stroke-width="0.75"/>
<path d="M529.0,230.5 L514.5,239.6 M514.6,235.4 L528.9,229.3" stroke="#000" stroke-width="0.75"/>
<path d="M530.6,221.8 L517.2,223.6 M519.0,219.1 L531.2,220.5" stroke="#000" stroke-width="0.75"/>
<path d="M531.4,220.2 L524.1,209.5 M526.9,205.6 L532.1,219.0" stroke="#000" stroke-width="0.75"/>
<path d="M537.5,213.4 L535.5,196.8 M539.0,194.3 L538.5,212.8" stroke="#000" stroke-width="0.75"/>
<path d="M538.8,212.7 L546.7,190.6 M550.1,189.8 L539.8,212.3" stroke="#000" stroke-width="0.75"/>
<ellipse cx="537.8" cy="223.8" rx="13.0" ry="7.7" transform="rotate(-60.8 537.8 223.8)" stroke="#000" stroke-width="1.0" fill="#fff"/>
<ellipse cx="537.8" cy="223.8" rx="8.7" ry="5.1" transform="rotate(-60.8 537.8 223.8)" stroke="#000" stroke-width="0.8" fill="url(#mesh)"/>
<path d="M532.0,175.0 C533.3,173.7 536.7,168.8 540.0,167.0 C543.3,165.2 547.8,163.5 552.0,164.0 C556.2,164.5 562.8,169.0 565.0,170.0" stroke="#000" stroke-width="0.85" fill="none"/>
<path d="M263.4,259.0 C265.3,254.5 270.9,241.0 275.0,232.0 C279.1,223.0 283.8,213.2 288.0,205.0 C292.2,196.8 297.5,187.6 300.5,182.6 C303.5,177.6 305.1,176.3 306.0,175.0" stroke="#000" stroke-width="0.85" fill="none"/>
<path d="M279.7,263.7 C281.8,259.4 287.8,246.6 292.0,238.0 C296.2,229.4 300.9,220.1 305.0,212.0 C309.1,203.9 313.9,194.7 316.7,189.5 C319.5,184.3 321.1,182.4 322.0,181.0" stroke="#000" stroke-width="0.85" fill="none"/>
<path d="M268.0,262.0 C270.3,257.3 277.3,243.2 282.0,234.0 C286.7,224.8 291.9,214.7 296.0,207.0 C300.1,199.3 303.8,192.5 306.5,188.0 C309.2,183.5 311.1,181.3 312.0,180.0" stroke="#000" stroke-width="0.85" fill="none"/>
<path d="M319.0,224.3 C320.9,222.4 324.4,219.7 328.3,219.7 C332.2,219.7 338.7,221.6 342.2,224.3 C345.7,227.0 347.6,230.9 349.2,235.9 C350.8,240.9 351.9,249.4 351.5,254.4 C351.1,259.4 350.8,263.7 346.9,266.0 C343.0,268.3 332.9,269.1 328.3,268.3 C323.7,267.5 320.9,264.5 319.0,261.4 C317.1,258.3 317.1,254.8 316.7,249.8 C316.3,244.8 316.3,235.4 316.7,231.2 C317.1,226.9 317.1,226.2 319.0,224.3 Z" stroke="#000" stroke-width="1.1" fill="none"/>
<path d="M321.0,228.0 C322.5,227.3 326.7,224.0 330.0,224.0 C333.3,224.0 338.3,225.8 341.0,228.0 C343.7,230.2 344.8,233.0 346.0,237.0 C347.2,241.0 347.7,249.5 348.0,252.0" stroke="#000" stroke-width="0.85" fill="none"/>
<path d="M319.5,252 L347,257 L346,262 L320,258 Z" stroke="#000" stroke-width="1" fill="url(#mesh)"/>
<path d="M295.9,245.1 C297.4,245.4 301.5,246.2 305.0,247.0 C308.5,247.8 314.8,249.3 316.7,249.8" stroke="#000" stroke-width="0.85" fill="none"/>
<path d="M296.0,253.0 C297.5,253.2 301.6,253.5 305.0,254.0 C308.4,254.5 314.8,255.7 316.7,256.0" stroke="#000" stroke-width="0.85" fill="none"/>
<path d="M300.0,243.0 C299.3,243.8 296.0,246.0 296.0,248.0 C296.0,250.0 299.3,253.8 300.0,255.0" stroke="#000" stroke-width="0.85" fill="none"/>
<path d="M289.0,263.7 C290.8,264.1 295.0,265.2 300.0,266.0 C305.0,266.8 312.3,267.6 319.0,268.3 C325.7,269.0 334.6,270.0 340.0,270.0 C345.4,270.0 349.6,268.6 351.5,268.3" stroke="#000" stroke-width="0.85" fill="none"/>
<path d="M351.5,268.3 C356.2,266.4 370.0,260.9 380.0,257.0 C390.0,253.1 403.4,248.2 411.7,245.1 C420.0,242.0 426.9,239.3 430.0,238.2" stroke="#000" stroke-width="0.85" fill="none"/>
<path d="M346.0,262.0 C351.7,260.0 369.1,253.7 380.0,250.0 C390.9,246.3 403.4,242.7 411.7,240.0 C420.0,237.3 426.9,235.0 430.0,234.0" stroke="#000" stroke-width="0.85" fill="none"/>
<path d="M282.9,264.1 C283.4,268.1 285.0,280.2 286.1,288.3 C287.2,296.4 288.5,305.4 289.3,312.4 C290.1,319.4 290.5,323.4 290.9,330.1 C291.3,336.8 291.6,348.9 291.7,352.6" stroke="#000" stroke-width="0.85" fill="none"/>
<path d="M279.7,363.9 L430.8,272.2 L429.2,278.6 L281.3,367 Z" stroke="#000" stroke-width="0.8" fill="url(#hatchl)"/>
<path d="M411.5,244.8 C411.5,247.2 411.8,254.7 411.5,259.3 C411.2,263.9 410.8,268.2 410.0,272.2 C409.2,276.2 408.4,280.8 406.7,283.4 C405.0,286.0 401.1,287.2 400.0,288.0" stroke="#000" stroke-width="0.85" fill="none"/>
<path d="M287.7,285.0 C293.1,282.5 307.9,274.5 320.0,270.0 C332.1,265.5 345.3,262.5 360.0,258.0 C374.7,253.5 400.2,245.7 408.3,243.2" stroke="#000" stroke-width="0.85" fill="none"/>
<path d="M300.6,320.4 L410,260.9 M302.2,323.6 L410,267.3 M300.6,320.4 Q298,322.5 302.2,323.6" stroke="#000" stroke-width="0.8" fill="none"/>
<path d="M216.0,210.0 C220.7,207.3 232.3,204.7 240.0,204.0 C247.7,203.3 256.0,204.3 262.0,206.0 C268.0,207.7 273.3,210.3 276.0,214.0 C278.7,217.7 279.3,224.0 278.0,228.0 C276.7,232.0 273.0,235.7 268.0,238.0 C263.0,240.3 255.0,241.7 248.0,242.0 C241.0,242.3 231.5,241.7 226.0,240.0 C220.5,238.3 217.3,235.3 215.0,232.0 C212.7,228.7 211.8,223.7 212.0,220.0 C212.2,216.3 211.3,212.7 216.0,210.0 Z" stroke="#000" stroke-width="0.85" fill="none"/>
<path d="M180.0,212.7 C186.7,211.4 203.8,207.7 220.0,205.0 C236.2,202.3 267.8,197.9 277.3,196.5" stroke="#000" stroke-width="0.85" fill="none"/>
<path d="M220.0,222.0 C224.2,221.5 237.0,219.3 245.0,219.0 C253.0,218.7 264.2,219.8 268.0,220.0" stroke="#000" stroke-width="0.85" fill="none"/>
<path d="M180.0,180.3 C188.3,179.1 213.0,174.8 230.0,173.0 C247.0,171.2 273.3,170.3 282.0,169.8" stroke="#000" stroke-width="0.85" fill="none"/>
<path d="M282.0,169.8 C285.0,170.8 294.0,173.8 300.0,176.0 C306.0,178.2 315.0,181.8 318.0,183.0" stroke="#000" stroke-width="0.85" fill="none"/>
<path d="M262.0,178.0 C263.3,180.0 267.8,186.3 270.0,190.0 C272.2,193.7 274.2,198.3 275.0,200.0" stroke="#000" stroke-width="0.85" fill="none"/>
<path d="M235.0,182.0 L240.0,195.0" stroke="#000" stroke-width="0.85" fill="none"/>
<path d="M346.9,228.9 C350.8,227.4 361.1,222.8 370.0,220.0 C378.9,217.2 395.0,213.3 400.0,212.0" stroke="#000" stroke-width="0.85" fill="none"/>
<path d="M352.0,240.0 C356.7,238.3 370.3,233.0 380.0,230.0 C389.7,227.0 401.7,224.2 410.0,222.0 C418.3,219.8 426.7,217.8 430.0,217.0" stroke="#000" stroke-width="0.85" fill="none"/>
<path d="M394.0,31.6 L404.3,26.0 L404.3,50.9 L401.6,49.5 Z" stroke="#000" stroke-width="0.9" fill="none"/>
<path d="M398.8,33.6 L403.6,31.6 L403.6,41.2 Z" stroke="#000" stroke-width="0.8" fill="none"/>
<path d="M404.3,26.0 L414.7,28.8 L422.2,27.8" stroke="#000" stroke-width="0.9" fill="none"/>
<path d="M407.0,27.0 L407.0,51.0" stroke="#000" stroke-width="0.8" fill="none"/>
<path d="M414.7,28.8 L414.7,54.0" stroke="#000" stroke-width="0.9" fill="none"/>
<path d="M418.8,28.5 L418.8,54.5" stroke="#000" stroke-width="0.6" fill="none"/>
<path d="M422.9,28.0 L422.9,53.6" stroke="#000" stroke-width="0.9" fill="none"/>
<path d="M404.3,50.9 L408.4,50.9 L418.1,55.0 L422.2,53.6" stroke="#000" stroke-width="0.9" fill="none"/>
<path d="M422.9,44.0 L426.4,46.7 L426.4,50.9 L445.0,61.9" stroke="#000" stroke-width="0.9" fill="none"/>
<path d="M418.1,55.0 L436.7,66.0" stroke="#000" stroke-width="0.9" fill="none"/>
<path d="M401.6,49.5 C401.5,50.8 401.1,54.7 401.0,57.0 C400.9,59.3 401.8,61.2 400.9,63.3 C399.9,65.4 396.8,68.1 395.3,69.5 C393.8,70.9 392.5,71.2 391.9,71.6" stroke="#000" stroke-width="0.9" fill="none"/>
<path d="M422.2,52.9 C425.9,54.5 432.1,56.5 444.7,62.7 C457.3,68.9 480.6,80.7 497.6,90.2 C514.6,99.7 535.6,113.1 546.7,119.6 C557.8,126.1 561.4,127.8 564.3,129.4" stroke="#000" stroke-width="0.85" fill="none"/>
<path d="M425.0,56.0 C428.3,57.6 432.6,59.5 444.7,65.7 C456.8,71.9 480.6,83.7 497.6,93.2 C514.6,102.7 535.9,115.9 546.7,122.6 C557.5,129.3 559.8,131.5 562.4,133.3" stroke="#000" stroke-width="0.85" fill="none"/>
<path d="M567.8,113.0 L572.4,112.1 L573.3,122.2 Z" stroke="#000" stroke-width="0.9" fill="none"/>
<path d="M567.8,113.0 L567.8,126.0" stroke="#000" stroke-width="0.8" fill="none"/>
<path d="M563.2,130.5 L573.3,125.0 L573.3,139.7 L569.7,140.6 Z" stroke="#000" stroke-width="0.9" fill="none"/>
<path d="M568.7,132.3 L572.4,130.5 L572.4,139.7 Z" stroke="#000" stroke-width="0.7" fill="none"/>
<path d="M573.3,122.0 L573.3,152.0" stroke="#000" stroke-width="1.1" fill="none"/>
<path d="M575.2,134.1 L585.3,139.7 L585.3,165.4 L577.0,161.7 Z" stroke="#000" stroke-width="0.9" fill="none"/>
<path d="M578.8,139.7 L583.4,141.5 L583.4,163.6 L578.8,160.8 Z" stroke="#000" stroke-width="0.8" fill="none"/>
<path d="M539.3,160.8 L552.2,152.5 L573.3,152.5" stroke="#000" stroke-width="0.8" fill="none"/>
<path d="M552.2,152.5 L554.0,158.0 L563.0,162.0 L573.3,158.0" stroke="#000" stroke-width="0.8" fill="none"/>
<path d="M554.0,153.5 L558.6,153.5 L558.6,158.9 L554.0,158.9 Z" stroke="#000" stroke-width="0.7" fill="none"/>
<path d="M520.0,160.8 L563.2,137.8" stroke="#000" stroke-width="0.8" fill="none"/>
<path d="M563.2,137.8 C557.7,140.8 540.5,149.8 530.0,155.5 C519.5,161.2 509.5,166.8 500.0,172.0 C490.5,177.2 483.5,180.6 473.1,186.5 C462.7,192.4 443.6,203.9 437.7,207.4" stroke="#000" stroke-width="0.85" fill="none"/>
<path d="M556.0,150.0 C551.7,152.5 539.3,159.7 530.0,165.0 C520.7,170.3 509.5,176.7 500.0,182.0 C490.5,187.3 477.5,194.5 473.0,197.0" stroke="#000" stroke-width="0.85" fill="none"/>
<path d="M391.8,70.6 C395.7,70.2 407.2,68.7 415.0,68.0 C422.8,67.3 434.8,66.9 438.8,66.7" stroke="#000" stroke-width="0.85" fill="none"/>
<rect x="402.4" y="73.0" width="14.0" height="5.0" rx="2.5" transform="rotate(-27.0 409.4 75.5)" stroke="#000" stroke-width="0.9" fill="url(#hatch)"/>
<rect x="415.2" y="81.8" width="14.0" height="5.0" rx="2.5" transform="rotate(-27.0 422.2 84.3)" stroke="#000" stroke-width="0.9" fill="url(#hatch)"/>
<rect x="442.6" y="99.5" width="14.0" height="5.0" rx="2.5" transform="rotate(-27.0 449.6 102.0)" stroke="#000" stroke-width="0.9" fill="url(#hatch)"/>
<rect x="447.5" y="121.0" width="14.0" height="5.0" rx="2.5" transform="rotate(-27.0 454.5 123.5)" stroke="#000" stroke-width="0.9" fill="url(#hatch)"/>
<rect x="451.4" y="137.7" width="14.0" height="5.0" rx="2.5" transform="rotate(-27.0 458.4 140.2)" stroke="#000" stroke-width="0.9" fill="url(#hatch)"/>
<rect x="476.9" y="121.0" width="14.0" height="5.0" rx="2.5" transform="rotate(-27.0 483.9 123.5)" stroke="#000" stroke-width="0.9" fill="url(#hatch)"/>
<rect x="514.2" y="143.6" width="14.0" height="5.0" rx="2.5" transform="rotate(-27.0 521.2 146.1)" stroke="#000" stroke-width="0.9" fill="url(#hatch)"/>
<rect x="443.6" y="98.8" width="14.0" height="5.0" rx="2.5" transform="rotate(-27.0 450.6 101.3)" stroke="#000" stroke-width="0.9" fill="url(#hatch)"/>
<rect x="477.3" y="120.5" width="14.0" height="5.0" rx="2.5" transform="rotate(-27.0 484.3 123.0)" stroke="#000" stroke-width="0.9" fill="url(#hatch)"/>
<rect x="438.7" y="166.3" width="14.0" height="5.0" rx="2.5" transform="rotate(-27.0 445.7 168.8)" stroke="#000" stroke-width="0.9" fill="url(#hatch)"/>
<rect x="432.7" y="158.3" width="10.0" height="5.0" rx="2.5" transform="rotate(-27.0 437.7 160.8)" stroke="#000" stroke-width="0.9" fill="url(#hatch)"/>
<rect x="431.3" y="198.5" width="16.0" height="5.0" rx="2.5" transform="rotate(-27.0 439.3 201.0)" stroke="#000" stroke-width="0.9" fill="url(#hatch)"/>
<path d="M425.9,91.2 L429.9,88.2 L437.9,88.2 L441.9,91.2 L437.9,94.2 L429.9,94.2 Z" transform="rotate(-5.0 433.9 91.2)" stroke="#000" stroke-width="1.1" fill="none"/>
<path d="M465.9,116.5 L469.9,113.5 L477.9,113.5 L481.9,116.5 L477.9,119.5 L469.9,119.5 Z" transform="rotate(-5.0 473.9 116.5)" stroke="#000" stroke-width="1.1" fill="none"/>
<path d="M487.6,107.7 L491.6,104.7 L499.6,104.7 L503.6,107.7 L499.6,110.7 L491.6,110.7 Z" transform="rotate(-5.0 495.6 107.7)" stroke="#000" stroke-width="1.1" fill="none"/>
<path d="M476.1,89.1 L480.1,92.1 L480.1,98.1 L476.1,101.1 L472.1,98.1 L472.1,92.1 Z" stroke="#000" stroke-width="1.1" fill="none"/>
<path d="M463.3,102.8 L467.3,105.8 L467.3,111.8 L463.3,114.8 L459.3,111.8 L459.3,105.8 Z" stroke="#000" stroke-width="1.1" fill="none"/>
<path d="M510.9,132.3 L514.9,135.3 L514.9,141.3 L510.9,144.3 L506.9,141.3 L506.9,135.3 Z" stroke="#000" stroke-width="1.1" fill="none"/>
<path d="M475.5,89.6 L479.5,92.6 L479.5,98.6 L475.5,101.6 L471.5,98.6 L471.5,92.6 Z" stroke="#000" stroke-width="1.1" fill="none"/>
<path d="M457.0,170.0 L461.0,173.0 L461.0,179.0 L457.0,182.0 L453.0,179.0 L453.0,173.0 Z" stroke="#000" stroke-width="1.1" fill="none"/>
<path d="M454.9,84.8 L463.7,89.6 L469.7,84.4 L460.9,79.6 Z" stroke="#000" stroke-width="1.1" fill="none"/>
<path d="M478.8,101.3 L487.6,106.1 L493.6,100.9 L484.8,96.1 Z" stroke="#000" stroke-width="1.1" fill="none"/>
<path d="M501.7,116.9 L510.5,121.7 L516.5,116.5 L507.7,111.7 Z" stroke="#000" stroke-width="1.1" fill="none"/>
<path d="M420.0,73.5 L445.7,63.4" stroke="#000" stroke-width="0.8" fill="none"/>
<path d="M468.3,184 L537.4,147 L539,152 L469.5,189.5 Z" stroke="#000" stroke-width="0.9" fill="url(#hatch)"/>
<path d="M436.0,128.0 C438.0,126.3 445.2,120.0 448.0,118.0 C450.8,116.0 452.2,115.3 453.0,116.0 C453.8,116.7 451.5,122.0 453.0,122.0 C454.5,122.0 460.5,117.0 462.0,116.0" stroke="#000" stroke-width="1.1" fill="none"/>
<path d="M440.0,135.0 C442.0,133.7 449.0,128.7 452.0,127.0 C455.0,125.3 455.3,126.2 458.0,125.0 C460.7,123.8 466.3,120.8 468.0,120.0" stroke="#000" stroke-width="1.1" fill="none"/>
<path d="M465.0,165.0 C467.2,163.8 475.2,160.2 478.0,158.0 C480.8,155.8 480.0,153.3 482.0,152.0 C484.0,150.7 487.3,150.7 490.0,150.0 C492.7,149.3 496.7,148.3 498.0,148.0" stroke="#000" stroke-width="1.1" fill="none"/>
<path d="M468.0,170.0 C470.0,169.0 476.7,166.0 480.0,164.0 C483.3,162.0 484.7,159.7 488.0,158.0 C491.3,156.3 498.0,154.7 500.0,154.0" stroke="#000" stroke-width="1.1" fill="none"/>
<path d="M437.3,220.8 C441.1,219.3 452.0,215.0 460.0,212.0 C468.0,209.0 480.9,204.4 485.1,202.9" stroke="#000" stroke-width="0.85" fill="none"/>
<path d="M438.8,240.2 L485.1,202.9" stroke="#000" stroke-width="0.85" fill="none"/>
<path d="M485.1,202.9 L485.9,241.7" stroke="#000" stroke-width="0.85" fill="none"/>
<path d="M492.6,196.9 L493.4,238.7" stroke="#000" stroke-width="0.85" fill="none"/>
<path d="M438.8,244.7 L474.7,223.8" stroke="#000" stroke-width="0.85" fill="none"/>
<path d="M440.3,249.2 L477.7,231.2" stroke="#000" stroke-width="0.85" fill="none"/>
<path d="M440,255 L475,240 L476,244 L441,259 Z" stroke="#000" stroke-width="0.8" fill="url(#hatch)"/>
<path d="M432.9,265.6 C437.4,263.3 451.5,256.2 460.0,252.0 C468.5,247.8 478.0,242.9 483.7,240.2 C489.4,237.5 492.4,236.4 494.1,235.7" stroke="#000" stroke-width="0.85" fill="none"/>
<path d="M400.0,247.7 L412.0,253.7" stroke="#000" stroke-width="0.85" fill="none"/>
<path d="M430.8,256.0 L430.3,275.0" stroke="#000" stroke-width="0.85" fill="none"/>
<path d="M107.1,326.3 C114.2,322.4 134.5,311.4 150.0,303.0 C165.5,294.6 185.8,283.7 200.0,276.0 C214.2,268.3 229.6,259.9 235.5,256.7" stroke="#000" stroke-width="0.85" fill="none"/>
<path d="M112.5,329.8 C120.4,325.7 143.8,313.5 160.0,305.0 C176.2,296.5 195.9,286.6 210.0,279.0 C224.1,271.4 238.7,262.7 244.4,259.4" stroke="#000" stroke-width="0.85" fill="none"/>
<path d="M210.5,294.2 C215.4,291.3 231.1,282.4 240.0,277.0 C248.9,271.6 260.0,264.6 264.0,262.1" stroke="#000" stroke-width="0.85" fill="none"/>
<path d="M230.1,249.6 C232.2,251.1 236.9,256.4 242.6,258.5 C248.2,260.6 257.5,260.9 264.0,262.1 C270.5,263.3 278.8,265.0 281.8,265.6" stroke="#000" stroke-width="0.85" fill="none"/>
<path d="M264.0,262.1 C265.0,259.8 267.6,253.3 270.0,248.0 C272.4,242.7 276.9,233.0 278.3,230.0" stroke="#000" stroke-width="0.85" fill="none"/>
<path d="M176.6,230.0 C180.5,231.7 190.8,235.8 200.0,240.0 C209.2,244.2 226.6,252.5 231.9,255.0" stroke="#000" stroke-width="0.85" fill="none"/>
<path d="M247.0,341.0 L252.0,338.0" stroke="#000" stroke-width="0.8" fill="none"/>
<path d="M250.0,343.0 L257.0,339.0" stroke="#000" stroke-width="0.8" fill="none"/>
<path d="M254.0,344.0 L261.0,340.5" stroke="#000" stroke-width="0.8" fill="none"/>
</g>
<g id="bp">
<path d="M258.2,10.3 Q262,6 271.4,6 L300,15.5 L335,36.5 L345,42 L404,78.7 Q416,86 421.2,92.5 Q425,98 425.8,104 L431.6,135 L433,200 L434.5,252 L434.5,256.5 L340,201 L247.4,147.8 L248.4,100 L249.6,69 L253.6,34.5 Z" stroke="#000" stroke-width="1.5" fill="#000"/>
<path d="M251.5,140.0 C251.6,133.3 251.6,111.8 251.9,100.0 C252.2,88.2 252.6,79.0 253.2,69.0 C253.8,59.0 254.8,48.7 255.6,40.0 C256.4,31.3 257.2,21.8 258.3,17.0 C259.4,12.2 259.9,12.6 262.5,11.5 C265.1,10.4 267.0,8.8 273.7,10.3 C280.4,11.8 290.6,14.9 302.5,20.5 C314.4,26.1 328.5,33.3 345.0,43.8 C361.5,54.3 389.9,75.2 401.7,83.5 C413.4,91.8 412.1,89.9 415.5,93.5 C418.9,97.1 420.5,98.1 422.4,105.0 C424.3,111.9 425.8,119.2 427.0,135.0 C428.2,150.8 428.8,180.8 429.5,200.0 C430.2,219.2 430.8,241.7 431.0,250.0" stroke="#fff" stroke-width="0.9" fill="none"/>
<path d="M254.5,140.0 C254.6,133.3 255.0,111.8 255.3,100.0 C255.6,88.2 255.6,78.7 256.2,69.0 C256.8,59.3 257.7,50.6 258.6,42.0 C259.5,33.4 260.6,22.1 261.7,17.5 C262.8,12.9 259.3,13.5 265.1,14.5 C270.9,15.5 285.1,18.2 296.7,23.5 C308.3,28.8 317.9,36.1 335.0,46.5 C352.1,56.9 386.4,77.8 399.4,86.0 C412.4,94.2 409.8,92.5 413.2,96.0 C416.6,99.5 418.1,100.8 420.0,107.3 C421.9,113.8 423.5,119.5 424.7,135.0 C425.9,150.4 426.6,181.2 427.2,200.0 C427.8,218.8 428.3,240.0 428.5,248.0" stroke="#fff" stroke-width="0.8" fill="none" stroke-dasharray="1.5,1.2"/>
<path d="M285.2,24.1 C295.0,28.6 325.4,40.7 344.2,51.1 C363.0,61.5 389.2,80.8 398.2,86.7" stroke="#fff" stroke-width="0.9" fill="none"/>
<path d="M285.2,29.9 C294.6,34.8 323.6,48.3 341.9,59.1 C360.2,69.9 386.0,88.8 394.8,94.8" stroke="#fff" stroke-width="0.9" fill="none"/>
<path d="M286.0,27.0 C295.5,31.7 324.6,44.4 343.0,55.0 C361.4,65.6 387.6,84.8 396.5,90.7" stroke="#fff" stroke-width="1.2" fill="none" stroke-dasharray="0.8,1"/>
<path d="M268.0,19.0 L276.0,17.0 L284.0,20.0 L284.0,34.0 L276.0,36.0 L270.0,33.0 Z" stroke="#fff" stroke-width="0.9" fill="none"/>
<path d="M276.0,18.0 L276.0,35.0" stroke="#fff" stroke-width="0.9" fill="none"/>
<path d="M280.0,19.0 L280.0,35.0" stroke="#fff" stroke-width="0.9" fill="none"/>
<path d="M261.0,43.0 L267.0,45.0 L271.4,55.0 L270.0,60.0 L263.0,58.0 L261.0,50.0 Z" stroke="#fff" stroke-width="0.9" fill="none"/>
<path d="M394.8,88.0 L402.0,86.0 L404.0,98.0 L400.0,104.0 L395.0,101.0 Z" stroke="#fff" stroke-width="0.9" fill="none"/>
<path d="M405.7,131.0 L419.0,133.0 L421.2,141.0 L407.0,139.0 Z" stroke="#fff" stroke-width="0.9" fill="none"/>
<path d="M287.5,36.8 L335,61.4 L394.8,97.1 Q397.5,99 397.6,104 L397.6,138 Q397.5,143.5 393.6,143.6 L293.3,90.8 Q285.5,86 284.6,79 L284.1,69 L284.5,41 Q285,37 287.5,36.8 Z" stroke="#fff" stroke-width="0.9" fill="none"/>
<path d="M290.5,40.5 L335,64 L392,98 Q394.5,100 394.6,104 L394.6,136 Q394.5,140 391,139.8 L295,89 Q288.5,85 287.8,79 L287.4,69 L287.6,44 Q288,40.5 290.5,40.5 Z" stroke="#fff" stroke-width="0.8" fill="none"/>
<path d="M291,91.5 L335,116.5 L396,152 Q400,155 397,158 L335,122 L290,96.5 Q287,94 291,91.5 Z" stroke="#fff" stroke-width="0.9" fill="none"/>
<path d="M264.5,83.0 C265.1,85.0 264.9,94.7 268.0,95.0 C271.1,95.3 280.5,86.7 283.0,85.0" stroke="#fff" stroke-width="0.8" fill="none"/>
<path d="M271.0,85.0 L275.0,92.0" stroke="#fff" stroke-width="0.8" fill="none"/>
<path d="M283.0,80.5 L284.0,85.0" stroke="#fff" stroke-width="0.8" fill="none"/>
<path d="M405.7,151.4 C406.8,152.8 409.9,156.9 412.0,160.0 C414.1,163.1 416.5,167.1 418.0,170.0 C419.5,172.9 420.7,176.0 421.2,177.2" stroke="#fff" stroke-width="0.8" fill="none"/>
<path d="M408.6,99.4 C409.2,101.2 410.8,105.7 412.0,110.0 C413.2,114.3 415.0,120.8 416.0,125.0 C417.0,129.2 417.5,133.3 417.8,135.0" stroke="#fff" stroke-width="0.8" fill="none"/>
<g class="nss" transform="matrix(0.46356 -0.01116 -0.01220 0.48343 57.292 -151.196)">
<path d="M431.0,512.9 L826.0,739.5" stroke="#fff" stroke-width="0.8" fill="none"/>
<path d="M431.0,517.5 L826.5,744.5" stroke="#fff" stroke-width="0.8" fill="none"/>
<path d="M431.0,515.2 L826.0,742.0" stroke="#fff" stroke-width="1.3" fill="none" stroke-dasharray="0.8,2.5"/>
<path d="M430.0,525.8 L831.6,754.7" stroke="#fff" stroke-width="0.8" fill="none"/>
<path d="M427.4,608.0 L831.6,829.0" stroke="#fff" stroke-width="0.8" fill="none"/>
<path d="M447.6,618.0 L447.6,636.0" stroke="#fff" stroke-width="0.8" fill="none"/>
<path d="M814.0,825.0 L815.0,850.0" stroke="#fff" stroke-width="0.8" fill="none"/>
<ellipse cx="473.3" cy="644.0" rx="5.5" ry="7.5" transform="rotate(-10.0 473.3 644.0)" stroke="#fff" stroke-width="0.8" fill="none"/>
<ellipse cx="787.7" cy="820.0" rx="5.5" ry="7.5" transform="rotate(-10.0 787.7 820.0)" stroke="#fff" stroke-width="0.8" fill="none"/>
<path d="M456,600 L469.7,586.5 L475.2,588.3 L475.2,601.2 L460.5,612.2 L456.8,614 Z" stroke="#fff" stroke-width="0.8" fill="none"/>
<path d="M765.2,774.3 L792.5,770.4 L792.5,784 L767.1,789.9 Z" stroke="#fff" stroke-width="0.8" fill="none"/>
<g><path d="M462.4,553.4 C463.8,552.0 467.9,551.8 469.6,552.4 C471.3,553.0 472.3,553.2 472.8,557.0 C473.3,560.8 471.1,568.4 472.8,575.2 C474.5,582.0 480.9,593.1 483.1,597.9 C485.3,602.7 485.5,598.6 486.2,604.1 C486.9,609.6 487.5,625.8 487.2,631.0 C486.9,636.2 487.6,636.1 484.1,635.1 C480.7,634.1 470.1,627.2 466.5,624.8 C462.9,622.4 463.2,631.4 462.4,620.7 C461.5,610.0 461.4,571.9 461.4,560.7 C461.4,549.5 461.0,554.8 462.4,553.4 Z" stroke="#fff" stroke-width="2.4" fill="none" vector-effect="non-scaling-stroke"/>
<path d="M484.1,564.8 C485.1,563.9 486.0,562.4 489.3,563.8 C492.6,565.2 500.9,570.9 503.8,573.1 C506.7,575.3 506.4,565.5 506.9,577.2 C507.4,588.9 507.6,631.9 506.9,643.4 C506.2,654.9 503.9,646.5 502.7,646.5 C501.5,646.5 500.3,649.1 499.6,643.4 C498.9,637.7 500.7,621.0 498.6,612.4 C496.5,603.8 489.8,596.9 487.2,591.7 C484.6,586.5 483.8,585.2 483.1,581.4 C482.4,577.6 482.9,571.8 483.1,569.0 C483.3,566.2 483.1,565.7 484.1,564.8 Z" stroke="#fff" stroke-width="2.4" fill="none" vector-effect="non-scaling-stroke"/>
<path d="M519.3,584.5 C520.3,583.5 521.2,582.2 524.5,583.4 C527.8,584.6 536.1,589.6 538.9,591.7 C541.6,593.8 540.6,590.6 541.0,595.8 C541.4,601.0 542.7,616.5 541.0,622.7 C539.3,628.9 532.8,627.6 530.7,633.1 C528.6,638.6 529.6,651.5 528.6,655.8 C527.6,660.1 526.0,658.9 524.5,658.9 C523.0,658.9 520.3,667.3 519.3,655.8 C518.3,644.2 518.3,601.5 518.3,589.6 C518.3,577.7 518.3,585.5 519.3,584.5 Z" stroke="#fff" stroke-width="2.4" fill="none" vector-effect="non-scaling-stroke"/>
<path d="M541.0,637.2 C544.1,638.3 553.9,644.5 557.5,647.5 C561.1,650.5 561.8,650.9 562.7,655.0 C563.6,659.1 563.5,668.7 562.7,672.4 C561.9,676.1 561.6,677.9 558.0,677.0 C554.4,676.1 544.2,669.8 541.0,667.0 C537.8,664.2 539.2,664.3 538.9,660.0 C538.5,655.7 538.5,644.8 538.9,641.0 C539.2,637.2 537.9,636.1 541.0,637.2 Z" stroke="#fff" stroke-width="2.4" fill="none" vector-effect="non-scaling-stroke"/>
<path d="M557.5,608.3 C558.5,607.4 561.3,606.7 562.7,607.2 C564.1,607.7 565.1,607.8 565.8,611.4 C566.5,615.0 564.8,622.9 566.9,628.9 C569.0,634.9 575.6,643.0 578.2,647.5 C580.8,652.0 581.7,650.3 582.4,655.8 C583.1,661.3 583.1,675.8 582.4,680.6 C581.7,685.4 579.6,684.4 578.2,684.8 C576.8,685.1 575.0,686.2 574.1,682.7 C573.2,679.2 575.5,671.0 573.1,664.1 C570.7,657.2 562.2,646.5 559.6,641.3 C557.0,636.1 558.0,637.9 557.5,633.1 C557.0,628.3 556.5,616.5 556.5,612.4 C556.5,608.3 556.5,609.2 557.5,608.3 Z" stroke="#fff" stroke-width="2.4" fill="none" vector-effect="non-scaling-stroke"/>
<path d="M573.0,617.0 C573.7,614.3 575.7,614.5 577.0,615.0 C578.3,615.5 580.3,617.2 581.0,620.0 C581.7,622.8 581.7,629.5 581.0,632.0 C580.3,634.5 578.3,635.2 577.0,635.0 C575.7,634.8 573.7,634.0 573.0,631.0 C572.3,628.0 572.3,619.7 573.0,617.0 Z" stroke="#fff" stroke-width="2.4" fill="none" vector-effect="non-scaling-stroke"/>
<path d="M586.5,622.7 C587.4,621.8 591.3,621.0 592.7,621.7 C594.1,622.4 594.3,615.7 594.8,626.9 C595.3,638.1 596.1,677.9 595.8,688.9 C595.4,699.9 593.9,692.6 592.7,693.0 C591.5,693.4 589.5,702.0 588.6,691.0 C587.7,680.0 587.9,638.3 587.5,626.9 C587.1,615.5 585.6,623.6 586.5,622.7 Z" stroke="#fff" stroke-width="2.4" fill="none" vector-effect="non-scaling-stroke"/>
<path d="M604.1,633.1 C605.1,632.2 607.8,631.3 609.3,632.0 C610.8,632.7 612.7,633.9 613.4,637.2 C614.1,640.5 611.7,645.8 613.4,651.7 C615.1,657.6 621.3,667.6 623.7,672.4 C626.1,677.2 627.2,673.7 627.9,680.6 C628.6,687.5 628.6,707.5 627.9,713.7 C627.2,719.9 625.1,717.9 623.7,717.9 C622.3,717.9 620.5,717.9 619.6,713.7 C618.8,709.6 620.7,699.9 618.6,693.0 C616.5,686.1 609.6,677.2 607.2,672.4 C604.8,667.6 604.8,670.0 604.1,664.1 C603.4,658.2 603.0,642.4 603.0,637.2 C603.0,632.0 603.1,634.0 604.1,633.1 Z" stroke="#fff" stroke-width="2.4" fill="none" vector-effect="non-scaling-stroke"/>
<path d="M604.5,682.0 C605.1,679.2 606.8,679.7 608.0,680.0 C609.2,680.3 611.3,681.0 612.0,684.0 C612.7,687.0 612.7,695.2 612.0,698.0 C611.3,700.8 609.2,701.2 608.0,701.0 C606.8,700.8 605.1,700.2 604.5,697.0 C603.9,693.8 603.9,684.8 604.5,682.0 Z" stroke="#fff" stroke-width="2.4" fill="none" vector-effect="non-scaling-stroke"/>
<path d="M619.6,642.8 C620.5,641.9 619.5,640.3 622.8,641.7 C626.1,643.1 636.0,648.4 639.3,651.0 C642.6,653.6 641.9,654.1 642.4,657.2 C642.9,660.3 643.4,665.8 642.4,669.6 C641.4,673.4 637.4,672.9 636.2,680.0 C635.0,687.1 635.7,705.8 635.2,712.0 C634.7,718.2 634.1,716.5 633.1,717.2 C632.1,717.9 630.0,720.8 629.0,716.0 C628.0,711.2 628.8,696.0 626.9,688.3 C625.0,680.6 619.1,676.5 617.6,669.6 C616.1,662.7 617.3,651.5 617.6,647.0 C617.9,642.5 618.7,643.7 619.6,642.8 Z" stroke="#fff" stroke-width="2.4" fill="none" vector-effect="non-scaling-stroke"/>
<path d="M625.5,648.0 C626.2,645.2 628.1,646.3 630.0,647.0 C631.9,647.7 635.7,649.2 637.0,652.0 C638.3,654.8 638.5,661.0 638.0,664.0 C637.5,667.0 636.0,670.0 634.0,670.0 C632.0,670.0 627.4,667.7 626.0,664.0 C624.6,660.3 624.8,650.8 625.5,648.0 Z" stroke="#fff" stroke-width="2.4" fill="none" vector-effect="non-scaling-stroke"/>
<path d="M647.6,659.3 C648.4,658.7 650.6,658.0 652.0,658.5 C653.4,659.0 655.2,657.4 655.8,662.4 C656.4,667.4 658.2,681.6 655.8,688.3 C653.4,695.0 644.0,697.5 641.4,702.7 C638.8,707.9 640.0,715.8 640.3,719.3 C640.6,722.8 643.6,722.4 643.4,723.4 C643.2,724.4 640.5,725.4 639.3,725.0 C638.1,724.6 636.5,725.2 636.0,721.0 C635.5,716.8 634.2,706.0 636.0,700.0 C637.8,694.0 645.2,691.3 647.0,685.0 C648.8,678.7 646.9,666.3 647.0,662.0 C647.1,657.7 646.8,659.9 647.6,659.3 Z" stroke="#fff" stroke-width="2.4" fill="none" vector-effect="non-scaling-stroke"/>
<path d="M648.6,712.0 C649.2,709.0 650.7,708.7 652.0,709.0 C653.3,709.3 655.7,710.8 656.5,714.0 C657.3,717.2 657.6,725.0 656.9,728.0 C656.2,731.0 653.9,731.9 652.5,731.7 C651.1,731.5 649.2,730.3 648.6,727.0 C648.0,723.7 648.0,715.0 648.6,712.0 Z" stroke="#fff" stroke-width="2.4" fill="none" vector-effect="non-scaling-stroke"/>
<path d="M664.1,669.6 C664.9,668.7 666.5,668.1 668.0,668.5 C669.5,668.9 672.3,659.8 673.4,671.7 C674.5,683.6 675.0,728.1 674.5,740.0 C674.0,751.9 671.9,743.1 670.3,743.1 C668.7,743.1 666.3,751.5 665.1,740.0 C663.9,728.5 663.3,685.5 663.1,673.8 C662.9,662.1 663.3,670.5 664.1,669.6 Z" stroke="#fff" stroke-width="2.4" fill="none" vector-effect="non-scaling-stroke"/>
<path d="M679.6,680.0 C680.2,677.3 681.5,677.6 683.0,677.9 C684.5,678.2 687.9,679.0 688.9,682.0 C689.9,685.0 689.7,693.2 688.9,696.0 C688.1,698.8 685.5,698.9 684.0,698.6 C682.5,698.3 680.3,697.1 679.6,694.0 C678.9,690.9 679.0,682.7 679.6,680.0 Z" stroke="#fff" stroke-width="2.4" fill="none" vector-effect="non-scaling-stroke"/>
<path d="M691.0,684.1 C692.4,681.0 697.4,686.9 699.3,688.3 C701.2,689.7 701.9,688.6 702.4,692.4 C702.9,696.2 704.3,705.8 702.4,711.0 C700.5,716.2 693.2,717.2 691.0,723.4 C688.8,729.6 689.9,743.4 688.9,748.2 C687.9,753.0 686.3,752.4 684.8,752.4 C683.2,752.4 680.5,754.1 679.6,748.2 C678.7,742.3 677.7,724.1 679.6,717.2 C681.5,710.3 689.1,712.4 691.0,706.9 C692.9,701.4 689.6,687.2 691.0,684.1 Z" stroke="#fff" stroke-width="2.4" fill="none" vector-effect="non-scaling-stroke"/>
<path d="M699.0,729.0 C702.8,730.2 715.8,737.0 720.0,740.0 C724.2,743.0 723.4,743.0 724.1,747.0 C724.8,751.0 724.8,760.4 724.1,764.0 C723.4,767.6 724.0,770.1 720.0,768.9 C716.0,767.7 703.8,760.1 700.0,757.0 C696.2,753.9 697.7,754.0 697.2,750.0 C696.7,746.0 696.9,736.5 697.2,733.0 C697.5,729.5 695.2,727.8 699.0,729.0 Z" stroke="#fff" stroke-width="2.4" fill="none" vector-effect="non-scaling-stroke"/>
<path d="M717.9,698.6 C719.1,698.1 720.3,697.9 724.1,699.6 C727.9,701.3 737.5,706.3 740.6,708.9 C743.7,711.5 742.4,703.4 742.7,715.1 C743.1,726.8 743.4,768.1 742.7,779.3 C742.0,790.5 740.0,782.4 738.6,782.4 C737.2,782.4 735.3,784.0 734.4,779.3 C733.5,774.6 735.5,761.6 733.4,754.4 C731.3,747.1 724.6,740.3 722.0,735.8 C719.4,731.3 718.8,733.0 717.9,727.5 C717.0,722.0 716.9,707.5 716.9,702.7 C716.9,697.9 716.7,699.1 717.9,698.6 Z" stroke="#fff" stroke-width="2.4" fill="none" vector-effect="non-scaling-stroke"/>
<path d="M753.5,719.5 C754.3,718.7 753.8,717.0 757.4,718.6 C761.0,720.2 771.6,726.5 775.0,729.3 C778.4,732.1 777.6,731.3 777.9,735.2 C778.2,739.1 779.0,748.2 776.9,752.8 C774.8,757.3 767.3,757.0 765.2,762.5 C763.1,768.0 765.2,781.3 764.2,786.0 C763.2,790.7 760.9,790.6 759.3,790.9 C757.7,791.2 755.5,799.1 754.4,787.9 C753.3,776.7 752.6,734.9 752.5,723.5 C752.4,712.1 752.7,720.3 753.5,719.5 Z" stroke="#fff" stroke-width="2.4" fill="none" vector-effect="non-scaling-stroke"/>
<path d="M786.7,741.0 C788.0,740.3 791.7,740.0 793.5,741.0 C795.3,742.0 796.8,735.2 797.4,746.9 C798.0,758.6 798.0,800.2 797.4,811.4 C796.8,822.6 796.8,815.3 793.5,814.3 C790.2,813.3 781.0,807.6 777.9,805.5 C774.8,803.4 775.4,808.1 774.9,801.6 C774.4,795.1 772.9,773.6 774.9,766.4 C776.9,759.2 784.9,762.2 786.7,758.6 C788.5,755.0 785.7,747.9 785.7,745.0 C785.7,742.1 785.4,741.7 786.7,741.0 Z" stroke="#fff" stroke-width="2.4" fill="none" vector-effect="non-scaling-stroke"/>
<path d="M462.4,553.4 C463.8,552.0 467.9,551.8 469.6,552.4 C471.3,553.0 472.3,553.2 472.8,557.0 C473.3,560.8 471.1,568.4 472.8,575.2 C474.5,582.0 480.9,593.1 483.1,597.9 C485.3,602.7 485.5,598.6 486.2,604.1 C486.9,609.6 487.5,625.8 487.2,631.0 C486.9,636.2 487.6,636.1 484.1,635.1 C480.7,634.1 470.1,627.2 466.5,624.8 C462.9,622.4 463.2,631.4 462.4,620.7 C461.5,610.0 461.4,571.9 461.4,560.7 C461.4,549.5 461.0,554.8 462.4,553.4 Z" stroke="#000" stroke-width="0.9" fill="none" vector-effect="non-scaling-stroke"/>
<path d="M484.1,564.8 C485.1,563.9 486.0,562.4 489.3,563.8 C492.6,565.2 500.9,570.9 503.8,573.1 C506.7,575.3 506.4,565.5 506.9,577.2 C507.4,588.9 507.6,631.9 506.9,643.4 C506.2,654.9 503.9,646.5 502.7,646.5 C501.5,646.5 500.3,649.1 499.6,643.4 C498.9,637.7 500.7,621.0 498.6,612.4 C496.5,603.8 489.8,596.9 487.2,591.7 C484.6,586.5 483.8,585.2 483.1,581.4 C482.4,577.6 482.9,571.8 483.1,569.0 C483.3,566.2 483.1,565.7 484.1,564.8 Z" stroke="#000" stroke-width="0.9" fill="none" vector-effect="non-scaling-stroke"/>
<path d="M519.3,584.5 C520.3,583.5 521.2,582.2 524.5,583.4 C527.8,584.6 536.1,589.6 538.9,591.7 C541.6,593.8 540.6,590.6 541.0,595.8 C541.4,601.0 542.7,616.5 541.0,622.7 C539.3,628.9 532.8,627.6 530.7,633.1 C528.6,638.6 529.6,651.5 528.6,655.8 C527.6,660.1 526.0,658.9 524.5,658.9 C523.0,658.9 520.3,667.3 519.3,655.8 C518.3,644.2 518.3,601.5 518.3,589.6 C518.3,577.7 518.3,585.5 519.3,584.5 Z" stroke="#000" stroke-width="0.9" fill="none" vector-effect="non-scaling-stroke"/>
<path d="M541.0,637.2 C544.1,638.3 553.9,644.5 557.5,647.5 C561.1,650.5 561.8,650.9 562.7,655.0 C563.6,659.1 563.5,668.7 562.7,672.4 C561.9,676.1 561.6,677.9 558.0,677.0 C554.4,676.1 544.2,669.8 541.0,667.0 C537.8,664.2 539.2,664.3 538.9,660.0 C538.5,655.7 538.5,644.8 538.9,641.0 C539.2,637.2 537.9,636.1 541.0,637.2 Z" stroke="#000" stroke-width="0.9" fill="none" vector-effect="non-scaling-stroke"/>
<path d="M557.5,608.3 C558.5,607.4 561.3,606.7 562.7,607.2 C564.1,607.7 565.1,607.8 565.8,611.4 C566.5,615.0 564.8,622.9 566.9,628.9 C569.0,634.9 575.6,643.0 578.2,647.5 C580.8,652.0 581.7,650.3 582.4,655.8 C583.1,661.3 583.1,675.8 582.4,680.6 C581.7,685.4 579.6,684.4 578.2,684.8 C576.8,685.1 575.0,686.2 574.1,682.7 C573.2,679.2 575.5,671.0 573.1,664.1 C570.7,657.2 562.2,646.5 559.6,641.3 C557.0,636.1 558.0,637.9 557.5,633.1 C557.0,628.3 556.5,616.5 556.5,612.4 C556.5,608.3 556.5,609.2 557.5,608.3 Z" stroke="#000" stroke-width="0.9" fill="none" vector-effect="non-scaling-stroke"/>
<path d="M573.0,617.0 C573.7,614.3 575.7,614.5 577.0,615.0 C578.3,615.5 580.3,617.2 581.0,620.0 C581.7,622.8 581.7,629.5 581.0,632.0 C580.3,634.5 578.3,635.2 577.0,635.0 C575.7,634.8 573.7,634.0 573.0,631.0 C572.3,628.0 572.3,619.7 573.0,617.0 Z" stroke="#000" stroke-width="0.9" fill="none" vector-effect="non-scaling-stroke"/>
<path d="M586.5,622.7 C587.4,621.8 591.3,621.0 592.7,621.7 C594.1,622.4 594.3,615.7 594.8,626.9 C595.3,638.1 596.1,677.9 595.8,688.9 C595.4,699.9 593.9,692.6 592.7,693.0 C591.5,693.4 589.5,702.0 588.6,691.0 C587.7,680.0 587.9,638.3 587.5,626.9 C587.1,615.5 585.6,623.6 586.5,622.7 Z" stroke="#000" stroke-width="0.9" fill="none" vector-effect="non-scaling-stroke"/>
<path d="M604.1,633.1 C605.1,632.2 607.8,631.3 609.3,632.0 C610.8,632.7 612.7,633.9 613.4,637.2 C614.1,640.5 611.7,645.8 613.4,651.7 C615.1,657.6 621.3,667.6 623.7,672.4 C626.1,677.2 627.2,673.7 627.9,680.6 C628.6,687.5 628.6,707.5 627.9,713.7 C627.2,719.9 625.1,717.9 623.7,717.9 C622.3,717.9 620.5,717.9 619.6,713.7 C618.8,709.6 620.7,699.9 618.6,693.0 C616.5,686.1 609.6,677.2 607.2,672.4 C604.8,667.6 604.8,670.0 604.1,664.1 C603.4,658.2 603.0,642.4 603.0,637.2 C603.0,632.0 603.1,634.0 604.1,633.1 Z" stroke="#000" stroke-width="0.9" fill="none" vector-effect="non-scaling-stroke"/>
<path d="M604.5,682.0 C605.1,679.2 606.8,679.7 608.0,680.0 C609.2,680.3 611.3,681.0 612.0,684.0 C612.7,687.0 612.7,695.2 612.0,698.0 C611.3,700.8 609.2,701.2 608.0,701.0 C606.8,700.8 605.1,700.2 604.5,697.0 C603.9,693.8 603.9,684.8 604.5,682.0 Z" stroke="#000" stroke-width="0.9" fill="none" vector-effect="non-scaling-stroke"/>
<path d="M619.6,642.8 C620.5,641.9 619.5,640.3 622.8,641.7 C626.1,643.1 636.0,648.4 639.3,651.0 C642.6,653.6 641.9,654.1 642.4,657.2 C642.9,660.3 643.4,665.8 642.4,669.6 C641.4,673.4 637.4,672.9 636.2,680.0 C635.0,687.1 635.7,705.8 635.2,712.0 C634.7,718.2 634.1,716.5 633.1,717.2 C632.1,717.9 630.0,720.8 629.0,716.0 C628.0,711.2 628.8,696.0 626.9,688.3 C625.0,680.6 619.1,676.5 617.6,669.6 C616.1,662.7 617.3,651.5 617.6,647.0 C617.9,642.5 618.7,643.7 619.6,642.8 Z" stroke="#000" stroke-width="0.9" fill="none" vector-effect="non-scaling-stroke"/>
<path d="M625.5,648.0 C626.2,645.2 628.1,646.3 630.0,647.0 C631.9,647.7 635.7,649.2 637.0,652.0 C638.3,654.8 638.5,661.0 638.0,664.0 C637.5,667.0 636.0,670.0 634.0,670.0 C632.0,670.0 627.4,667.7 626.0,664.0 C624.6,660.3 624.8,650.8 625.5,648.0 Z" stroke="#000" stroke-width="0.9" fill="none" vector-effect="non-scaling-stroke"/>
<path d="M647.6,659.3 C648.4,658.7 650.6,658.0 652.0,658.5 C653.4,659.0 655.2,657.4 655.8,662.4 C656.4,667.4 658.2,681.6 655.8,688.3 C653.4,695.0 644.0,697.5 641.4,702.7 C638.8,707.9 640.0,715.8 640.3,719.3 C640.6,722.8 643.6,722.4 643.4,723.4 C643.2,724.4 640.5,725.4 639.3,725.0 C638.1,724.6 636.5,725.2 636.0,721.0 C635.5,716.8 634.2,706.0 636.0,700.0 C637.8,694.0 645.2,691.3 647.0,685.0 C648.8,678.7 646.9,666.3 647.0,662.0 C647.1,657.7 646.8,659.9 647.6,659.3 Z" stroke="#000" stroke-width="0.9" fill="none" vector-effect="non-scaling-stroke"/>
<path d="M648.6,712.0 C649.2,709.0 650.7,708.7 652.0,709.0 C653.3,709.3 655.7,710.8 656.5,714.0 C657.3,717.2 657.6,725.0 656.9,728.0 C656.2,731.0 653.9,731.9 652.5,731.7 C651.1,731.5 649.2,730.3 648.6,727.0 C648.0,723.7 648.0,715.0 648.6,712.0 Z" stroke="#000" stroke-width="0.9" fill="none" vector-effect="non-scaling-stroke"/>
<path d="M664.1,669.6 C664.9,668.7 666.5,668.1 668.0,668.5 C669.5,668.9 672.3,659.8 673.4,671.7 C674.5,683.6 675.0,728.1 674.5,740.0 C674.0,751.9 671.9,743.1 670.3,743.1 C668.7,743.1 666.3,751.5 665.1,740.0 C663.9,728.5 663.3,685.5 663.1,673.8 C662.9,662.1 663.3,670.5 664.1,669.6 Z" stroke="#000" stroke-width="0.9" fill="none" vector-effect="non-scaling-stroke"/>
<path d="M679.6,680.0 C680.2,677.3 681.5,677.6 683.0,677.9 C684.5,678.2 687.9,679.0 688.9,682.0 C689.9,685.0 689.7,693.2 688.9,696.0 C688.1,698.8 685.5,698.9 684.0,698.6 C682.5,698.3 680.3,697.1 679.6,694.0 C678.9,690.9 679.0,682.7 679.6,680.0 Z" stroke="#000" stroke-width="0.9" fill="none" vector-effect="non-scaling-stroke"/>
<path d="M691.0,684.1 C692.4,681.0 697.4,686.9 699.3,688.3 C701.2,689.7 701.9,688.6 702.4,692.4 C702.9,696.2 704.3,705.8 702.4,711.0 C700.5,716.2 693.2,717.2 691.0,723.4 C688.8,729.6 689.9,743.4 688.9,748.2 C687.9,753.0 686.3,752.4 684.8,752.4 C683.2,752.4 680.5,754.1 679.6,748.2 C678.7,742.3 677.7,724.1 679.6,717.2 C681.5,710.3 689.1,712.4 691.0,706.9 C692.9,701.4 689.6,687.2 691.0,684.1 Z" stroke="#000" stroke-width="0.9" fill="none" vector-effect="non-scaling-stroke"/>
<path d="M699.0,729.0 C702.8,730.2 715.8,737.0 720.0,740.0 C724.2,743.0 723.4,743.0 724.1,747.0 C724.8,751.0 724.8,760.4 724.1,764.0 C723.4,767.6 724.0,770.1 720.0,768.9 C716.0,767.7 703.8,760.1 700.0,757.0 C696.2,753.9 697.7,754.0 697.2,750.0 C696.7,746.0 696.9,736.5 697.2,733.0 C697.5,729.5 695.2,727.8 699.0,729.0 Z" stroke="#000" stroke-width="0.9" fill="none" vector-effect="non-scaling-stroke"/>
<path d="M717.9,698.6 C719.1,698.1 720.3,697.9 724.1,699.6 C727.9,701.3 737.5,706.3 740.6,708.9 C743.7,711.5 742.4,703.4 742.7,715.1 C743.1,726.8 743.4,768.1 742.7,779.3 C742.0,790.5 740.0,782.4 738.6,782.4 C737.2,782.4 735.3,784.0 734.4,779.3 C733.5,774.6 735.5,761.6 733.4,754.4 C731.3,747.1 724.6,740.3 722.0,735.8 C719.4,731.3 718.8,733.0 717.9,727.5 C717.0,722.0 716.9,707.5 716.9,702.7 C716.9,697.9 716.7,699.1 717.9,698.6 Z" stroke="#000" stroke-width="0.9" fill="none" vector-effect="non-scaling-stroke"/>
<path d="M753.5,719.5 C754.3,718.7 753.8,717.0 757.4,718.6 C761.0,720.2 771.6,726.5 775.0,729.3 C778.4,732.1 777.6,731.3 777.9,735.2 C778.2,739.1 779.0,748.2 776.9,752.8 C774.8,757.3 767.3,757.0 765.2,762.5 C763.1,768.0 765.2,781.3 764.2,786.0 C763.2,790.7 760.9,790.6 759.3,790.9 C757.7,791.2 755.5,799.1 754.4,787.9 C753.3,776.7 752.6,734.9 752.5,723.5 C752.4,712.1 752.7,720.3 753.5,719.5 Z" stroke="#000" stroke-width="0.9" fill="none" vector-effect="non-scaling-stroke"/>
<path d="M786.7,741.0 C788.0,740.3 791.7,740.0 793.5,741.0 C795.3,742.0 796.8,735.2 797.4,746.9 C798.0,758.6 798.0,800.2 797.4,811.4 C796.8,822.6 796.8,815.3 793.5,814.3 C790.2,813.3 781.0,807.6 777.9,805.5 C774.8,803.4 775.4,808.1 774.9,801.6 C774.4,795.1 772.9,773.6 774.9,766.4 C776.9,759.2 784.9,762.2 786.7,758.6 C788.5,755.0 785.7,747.9 785.7,745.0 C785.7,742.1 785.4,741.7 786.7,741.0 Z" stroke="#000" stroke-width="0.9" fill="none" vector-effect="non-scaling-stroke"/></g>
</g>
</g>
<g id="glass">
<path d="M846,186 L1085,322 Q1097,330 1098,345 L1104,425 Q1104,442 1091,442 L855,305 C843,298 836,290 834.5,276 C833,262 832.8,250 833,238 C833.3,222 834.2,210 835.5,198 Q836.5,188 846,186 Z" stroke="#000" stroke-width="2.1" fill="none"/>
<path d="M889.0,288.0 L1046.0,313.5" stroke="#000" stroke-width="0.8" fill="none"/>
<path d="M936.0,315.6 L1008.0,324.3" stroke="#000" stroke-width="0.8" fill="none"/>
<path d="M966.0,335.8 L988.0,337.4" stroke="#000" stroke-width="0.8" fill="none"/>
<circle cx="876.0" cy="208.6" r="1.5" stroke="#000" stroke-width="0.8" fill="none"/>
<circle cx="967.4" cy="257.6" r="1.5" stroke="#000" stroke-width="0.8" fill="none"/>
<circle cx="1059.0" cy="314.0" r="1.5" stroke="#000" stroke-width="0.8" fill="none"/>
<circle cx="870.3" cy="309.7" r="1.5" stroke="#000" stroke-width="0.8" fill="none"/>
<circle cx="967.4" cy="367.0" r="1.5" stroke="#000" stroke-width="0.8" fill="none"/>
<circle cx="1065.0" cy="422.0" r="1.5" stroke="#000" stroke-width="0.8" fill="none"/>
<path d="M845.5,198.5 L848.5,198.5 L848.5,201.5 L845.5,201.5 Z" stroke="#000" stroke-width="0.6" fill="#000"/>
<path d="M1086.0,336.5 L1089.5,336.5 L1089.5,340.0 L1086.0,340.0 Z" stroke="#000" stroke-width="0.6" fill="#000"/>
</g>
<g id="p1">
<path d="M588,248.9 Q592,244.5 600.6,245 L610.0,247.2 L625.0,254.0 L640.0,260.9 L655.0,268.1 L670.0,275.4 L685.0,282.9 L700.0,290.6 L715.0,298.5 L730.0,306.6 L745.0,314.9 L760.0,323.3 L775.0,332.0 L790.0,340.8 L805.0,349.9 L820.0,359.1 L835.0,368.6 L850.0,378.2 L865.0,388.1 L880.0,398.1 L895.0,408.3 L919.4,425.4 Q930,436 934.3,449.5 L943.3,479.4 L949.3,509.3 L955.2,560 L968,676 L968,681 L558.5,445 C558,440 558.3,436 558.5,433.2 C558.6,425 558.5,420 558.5,413.9 C559.5,405 560,398 560.9,389.8 C562,380 563,370 564.5,360.8 C566,350 567.5,341 569.3,331.8 C571,320 572.5,310 574.2,300.4 C576,290 577.5,283 579,276.2 C580.5,269 581.5,264 582.6,259.3 C583.5,255 584.5,252 586.2,249.7 Z" stroke="#000" stroke-width="2.2" fill="none"/>
<path d="M562.0,437.0 C562.1,434.2 562.1,427.8 562.5,420.0 C562.9,412.2 563.6,399.7 564.5,390.0 C565.4,380.3 566.6,371.5 568.0,362.0 C569.4,352.5 571.3,343.0 573.0,333.0 C574.7,323.0 576.3,311.3 578.0,302.0 C579.7,292.7 581.5,284.2 583.0,277.0 C584.5,269.8 585.5,262.9 587.0,259.0 C588.5,255.1 589.0,254.5 592.0,253.5 C595.0,252.5 599.5,251.9 605.0,253.0 C610.5,254.1 619.2,257.7 625.0,260.0 C630.8,262.3 635.0,264.5 640.0,266.9 C645.0,269.2 650.0,271.7 655.0,274.1 C660.0,276.5 665.0,278.9 670.0,281.4 C675.0,283.9 680.0,286.4 685.0,288.9 C690.0,291.4 695.0,294.0 700.0,296.6 C705.0,299.2 710.0,301.8 715.0,304.5 C720.0,307.2 725.0,309.9 730.0,312.6 C735.0,315.3 740.0,318.1 745.0,320.9 C750.0,323.7 755.0,326.4 760.0,329.3 C765.0,332.2 770.0,335.1 775.0,338.0 C780.0,340.9 785.0,343.8 790.0,346.8 C795.0,349.8 800.0,352.8 805.0,355.9 C810.0,358.9 815.0,362.0 820.0,365.1 C825.0,368.2 830.0,371.4 835.0,374.6 C840.0,377.8 845.0,380.9 850.0,384.2 C855.0,387.4 860.0,390.8 865.0,394.1 C870.0,397.4 875.0,400.7 880.0,404.1 C885.0,407.5 888.4,409.7 895.0,414.3 C901.6,418.9 913.9,426.9 919.4,431.5 C924.9,436.1 926.0,438.0 928.0,442.0 C930.0,446.0 929.8,449.3 931.3,455.5 C932.8,461.7 935.3,468.6 937.3,479.4 C939.2,490.1 941.5,506.6 943.0,520.0 C944.5,533.4 944.5,541.7 946.3,560.0 C948.1,578.3 952.0,612.0 954.0,630.0 C956.0,648.0 957.3,661.7 958.0,668.0" stroke="#000" stroke-width="0.9" fill="none"/>
<path d="M565.0,436.0 C565.1,433.3 565.1,427.7 565.5,420.0 C565.9,412.3 566.6,399.7 567.5,390.0 C568.4,380.3 569.6,371.5 571.0,362.0 C572.4,352.5 574.3,343.0 576.0,333.0 C577.7,323.0 579.3,311.2 581.0,302.0 C582.7,292.8 584.5,284.7 586.0,278.0 C587.5,271.3 588.5,265.3 590.0,262.0 C591.5,258.7 592.5,258.8 595.0,258.0 C597.5,257.2 600.0,256.5 605.0,257.5 C610.0,258.5 619.2,261.8 625.0,264.0 C630.8,266.2 635.0,268.5 640.0,270.9 C645.0,273.2 650.0,275.7 655.0,278.1 C660.0,280.5 665.0,282.9 670.0,285.4 C675.0,287.9 680.0,290.4 685.0,292.9 C690.0,295.4 695.0,298.0 700.0,300.6 C705.0,303.2 710.0,305.8 715.0,308.5 C720.0,311.2 725.0,313.9 730.0,316.6 C735.0,319.3 740.0,322.1 745.0,324.9 C750.0,327.7 755.0,330.4 760.0,333.3 C765.0,336.2 770.0,339.1 775.0,342.0 C780.0,344.9 785.0,347.8 790.0,350.8 C795.0,353.8 800.0,356.8 805.0,359.9 C810.0,362.9 815.0,366.0 820.0,369.1 C825.0,372.2 830.0,375.4 835.0,378.6 C840.0,381.8 845.0,384.9 850.0,388.2 C855.0,391.4 860.0,394.8 865.0,398.1 C870.0,401.4 875.0,404.7 880.0,408.1 C885.0,411.5 888.8,413.8 895.0,418.3 C901.2,422.8 911.8,430.4 917.0,435.0 C922.2,439.6 924.1,442.2 926.0,446.0 C927.9,449.8 927.2,452.3 928.5,458.0 C929.8,463.7 932.1,469.7 934.0,480.0 C935.9,490.3 938.4,506.7 940.0,520.0 C941.6,533.3 941.7,541.7 943.5,560.0 C945.3,578.3 949.1,612.0 951.0,630.0 C952.9,648.0 954.3,661.7 955.0,668.0" stroke="#000" stroke-width="0.8" fill="none"/>
<path d="M598.0,262.8 C599.3,263.3 601.2,264.6 605.7,266.0 C610.2,267.4 619.3,269.0 625.0,271.0 C630.7,273.0 635.0,275.5 640.0,277.9 C645.0,280.2 650.0,282.7 655.0,285.1 C660.0,287.5 665.0,289.9 670.0,292.4 C675.0,294.9 680.0,297.4 685.0,299.9 C690.0,302.4 695.0,305.0 700.0,307.6 C705.0,310.2 710.0,312.8 715.0,315.5 C720.0,318.2 725.0,320.9 730.0,323.6 C735.0,326.3 740.0,329.1 745.0,331.9 C750.0,334.7 755.0,337.4 760.0,340.3 C765.0,343.2 770.0,346.1 775.0,349.0 C780.0,351.9 785.0,354.8 790.0,357.8 C795.0,360.8 800.0,363.8 805.0,366.9 C810.0,369.9 815.0,373.0 820.0,376.1 C825.0,379.2 830.0,382.4 835.0,385.6 C840.0,388.8 845.0,391.9 850.0,395.2 C855.0,398.4 860.0,401.8 865.0,405.1 C870.0,408.4 875.0,412.0 880.0,415.1 C885.0,418.2 892.5,422.5 895.0,424.0" stroke="#000" stroke-width="0.8" fill="none"/>
<path d="M605.7,272.0 C608.9,272.8 619.3,275.0 625.0,277.0 C630.7,279.0 635.0,281.5 640.0,283.9 C645.0,286.2 650.0,288.7 655.0,291.1 C660.0,293.5 665.0,295.9 670.0,298.4 C675.0,300.9 680.0,303.4 685.0,305.9 C690.0,308.4 695.0,311.0 700.0,313.6 C705.0,316.2 710.0,318.8 715.0,321.5 C720.0,324.2 725.0,326.9 730.0,329.6 C735.0,332.3 740.0,335.1 745.0,337.9 C750.0,340.7 755.0,343.4 760.0,346.3 C765.0,349.2 770.0,352.1 775.0,355.0 C780.0,357.9 785.0,360.8 790.0,363.8 C795.0,366.8 800.0,369.8 805.0,372.9 C810.0,375.9 815.0,379.0 820.0,382.1 C825.0,385.2 830.0,388.4 835.0,391.6 C840.0,394.8 845.0,397.9 850.0,401.2 C855.0,404.4 860.0,407.3 865.0,411.1 C870.0,414.9 877.5,421.9 880.0,424.0" stroke="#000" stroke-width="0.8" fill="none"/>
<path d="M628.4,295.7 C632.8,297.1 648.1,301.5 655.0,304.1 C661.9,306.7 665.0,308.9 670.0,311.4 C675.0,313.9 680.0,316.4 685.0,318.9 C690.0,321.4 695.0,324.0 700.0,326.6 C705.0,329.2 710.0,331.8 715.0,334.5 C720.0,337.2 725.0,339.9 730.0,342.6 C735.0,345.3 740.0,348.1 745.0,350.9 C750.0,353.7 755.0,356.4 760.0,359.3 C765.0,362.2 770.0,365.1 775.0,368.0 C780.0,370.9 785.0,373.8 790.0,376.8 C795.0,379.8 800.0,382.8 805.0,385.9 C810.0,388.9 815.0,392.0 820.0,395.1 C825.0,398.2 830.0,401.4 835.0,404.6 C840.0,407.8 844.0,409.6 850.0,414.2 C856.0,418.8 866.3,428.2 871.0,432.0 C875.7,435.8 876.8,436.2 878.0,437.0" stroke="#000" stroke-width="0.8" fill="none"/>
<path d="M637.3,310.9 C642.8,312.3 662.0,316.7 670.0,319.4 C678.0,322.1 680.0,324.4 685.0,326.9 C690.0,329.4 695.0,332.0 700.0,334.6 C705.0,337.2 710.0,339.8 715.0,342.5 C720.0,345.2 725.0,347.9 730.0,350.6 C735.0,353.3 740.0,356.1 745.0,358.9 C750.0,361.7 755.0,364.4 760.0,367.3 C765.0,370.2 770.0,373.1 775.0,376.0 C780.0,378.9 785.0,381.8 790.0,384.8 C795.0,387.8 800.0,390.8 805.0,393.9 C810.0,396.9 815.0,400.0 820.0,403.1 C825.0,406.2 830.0,409.4 835.0,412.6 C840.0,415.8 843.2,417.6 850.0,422.2 C856.8,426.8 869.3,435.2 876.0,440.0 C882.7,444.8 886.8,446.4 890.0,451.0 C893.2,455.6 894.3,451.7 895.5,467.4 C896.7,483.1 896.8,532.1 897.0,545.1" stroke="#000" stroke-width="0.8" fill="none"/>
<path d="M646,310.5 L740,357 L871.5,437.5 Q885,445 887.5,454 Q889.5,462 889.5,473 L889.5,542.2 Q889,556 880,556 L676.5,428 Q662,420 655,412 Q644,400 643.6,391.8 L641.1,319 Q641,311.5 646,310.5 Z" stroke="#000" stroke-width="0.9" fill="none"/>
<path d="M637.3,310.9 C636.9,311.7 635.0,302.4 634.8,315.9 C634.6,329.4 634.8,376.1 636.0,391.8 C637.2,407.5 639.5,405.4 642.0,410.0 C644.5,414.6 646.5,416.4 651.2,419.7 C655.9,423.0 666.9,428.3 670.0,430.0" stroke="#000" stroke-width="0.8" fill="none"/>
<path d="M628.4,295.7 C628.0,298.2 626.7,296.6 625.9,310.9 C625.1,325.2 623.2,366.8 623.4,381.7 C623.6,396.6 625.3,394.9 627.0,400.0 C628.7,405.1 630.3,408.0 633.5,412.0 C636.7,416.0 643.9,422.0 646.0,424.0" stroke="#000" stroke-width="0.8" fill="none"/>
<path d="M605.7,278.0 C605.3,280.1 604.8,275.9 603.1,290.6 C601.4,305.4 597.2,347.5 595.5,366.5 C593.8,385.5 592.2,394.8 593.0,404.5 C593.8,414.2 596.8,419.8 600.0,425.0 C603.2,430.2 610.0,434.2 612.0,436.0" stroke="#000" stroke-width="0.8" fill="none"/>
<path d="M596.8,275.4 C596.6,277.9 597.0,269.1 595.5,290.6 C594.0,312.1 588.9,382.1 588.0,404.5 C587.1,426.9 588.0,419.1 590.0,425.0 C592.0,430.9 598.3,437.5 600.0,440.0" stroke="#000" stroke-width="0.8" fill="none"/>
<path d="M597.0,266.0 C597.3,265.3 597.5,262.8 599.0,262.0 C600.5,261.2 603.5,260.3 606.0,261.0 C608.5,261.7 612.0,263.5 614.0,266.0 C616.0,268.5 618.0,273.2 618.3,276.0 C618.6,278.8 616.4,281.8 616.0,283.0" stroke="#000" stroke-width="0.9" fill="none"/>
<path d="M600.0,270.0 C600.7,269.3 602.3,266.3 604.0,266.0 C605.7,265.7 608.5,266.5 610.0,268.0 C611.5,269.5 612.5,273.8 613.0,275.0" stroke="#000" stroke-width="0.8" fill="none"/>
<path d="M618.3,264.0 L630.0,266.0 L632.0,272.0 L634.0,300.0 L627.0,303.3 L620.0,300.0 Z" stroke="#000" stroke-width="0.9" fill="none"/>
<path d="M623.0,266.0 L624.0,301.0" stroke="#000" stroke-width="0.8" fill="none"/>
<path d="M627.0,267.0 L628.0,302.0" stroke="#000" stroke-width="0.8" fill="none"/>
<path d="M582.9,321.0 L594.0,330.0 L605.7,340.0 L604.0,356.0 L596.0,358.9 L590.0,350.0 L583.0,342.0 Z" stroke="#000" stroke-width="0.9" fill="none"/>
<path d="M588.0,326.0 L600.0,350.0" stroke="#000" stroke-width="0.8" fill="none"/>
<path d="M874.5,425.0 L882.0,416.6 L890.0,420.0 L903.0,428.0 L900.0,445.0 L892.0,455.5 L878.0,452.0 L875.0,445.0 Z" stroke="#000" stroke-width="0.9" fill="none"/>
<path d="M885.0,420.0 L882.0,450.0" stroke="#000" stroke-width="0.8" fill="none"/>
<path d="M893.0,423.0 L889.0,453.0" stroke="#000" stroke-width="0.8" fill="none"/>
<path d="M906.0,446.0 L913.0,440.5 L922.0,444.0 L926.8,458.0 L921.0,464.4 L912.0,462.0 Z" stroke="#000" stroke-width="0.9" fill="none"/>
<path d="M903.0,525.0 L912.0,518.2 L938.8,526.0 L938.8,540.0 L932.0,542.2 L906.0,535.0 Z" stroke="#000" stroke-width="0.9" fill="none"/>
<path d="M912.0,522.0 L934.0,532.0" stroke="#000" stroke-width="0.8" fill="none"/>
<path d="M907.4,461.4 C907.7,467.8 908.4,488.6 909.0,500.0 C909.6,511.4 910.3,520.0 911.0,530.0 C911.7,540.0 912.6,548.3 913.4,560.0 C914.2,571.7 915.2,588.3 916.0,600.0 C916.8,611.7 917.7,625.0 918.0,630.0" stroke="#000" stroke-width="0.8" fill="none"/>
<path d="M922.4,464.4 C923.0,470.3 924.9,489.1 926.0,500.0 C927.1,510.9 928.1,520.0 929.0,530.0 C929.9,540.0 930.5,548.3 931.3,560.0 C932.1,571.7 933.2,586.7 934.0,600.0 C934.8,613.3 935.7,633.3 936.0,640.0" stroke="#000" stroke-width="0.8" fill="none"/>
<path d="M897.0,545.1 C897.5,550.9 898.5,569.2 900.0,580.0 C901.5,590.8 904.0,601.7 906.0,610.0 C908.0,618.3 908.8,623.0 912.0,630.0 C915.2,637.0 921.2,647.0 925.0,652.0 C928.8,657.0 933.3,658.7 935.0,660.0" stroke="#000" stroke-width="0.8" fill="none"/>
<path d="M585.4,417.1 L631.0,404.5" stroke="#000" stroke-width="0.8" fill="none"/>
<path d="M586.5,421.0 L632.0,408.5" stroke="#000" stroke-width="0.8" fill="none"/>
<path d="M633.5,412.0 L600.6,440.4" stroke="#000" stroke-width="0.8" fill="none"/>
<path d="M635.0,415.5 L602.5,443.0" stroke="#000" stroke-width="0.8" fill="none"/>
<path d="M585.4,417.1 L586.5,421 Q590,432 600.6,440.4 L602.5,443 Q592,440 587,430 Q584,424 585.4,417.1 Z" stroke="#000" stroke-width="0.7" fill="url(#hatchl)"/>
<path d="M648,431 L889,566.5 L889,580 L646,439 Q642,435 648,431 Z" stroke="#000" stroke-width="0.9" fill="none"/>
<path d="M648.0,435.0 L887.0,573.0" stroke="#000" stroke-width="1" fill="none" stroke-dasharray="1,1"/>
<path d="M642,454.5 L889,592 L888,615.5 L642,472.5 Q636,470 637,462 Q638,455 642,454.5 Z" stroke="#000" stroke-width="0.9" fill="none"/>
<path d="M645,458 L886,595 L885.5,612 L645,469" stroke="#000" stroke-width="0.8" fill="none"/>
<path d="M646.0,461.0 L885.0,598.0" stroke="#000" stroke-width="1" fill="none" stroke-dasharray="1,1"/>
<path d="M604.6,440.3 C620.5,449.2 672.4,478.7 700.0,494.0 C727.6,509.3 740.0,515.2 770.0,532.0 C800.0,548.8 861.7,584.5 880.0,595.0" stroke="#000" stroke-width="0.8" fill="none"/>
<path d="M617.7,453.4 C631.4,461.2 674.6,485.6 700.0,500.0 C725.4,514.4 739.2,522.7 770.0,540.0 C800.8,557.3 865.8,593.3 885.0,604.0" stroke="#000" stroke-width="0.8" fill="none"/>
<path d="M612.0,436.0 C626.7,444.7 673.7,472.7 700.0,488.0 C726.3,503.3 738.7,510.7 770.0,528.0 C801.3,545.3 868.3,581.3 888.0,592.0" stroke="#000" stroke-width="0.8" fill="none"/>
<path d="M633.0,465.0 C644.2,472.2 677.2,494.3 700.0,508.0 C722.8,521.7 738.3,529.7 770.0,547.0 C801.7,564.3 863.3,597.8 890.0,612.0 C916.7,626.2 923.3,628.7 930.0,632.0" stroke="#000" stroke-width="0.8" fill="none"/>
<path d="M659.2,427.1 C677.7,436.9 732.2,464.6 770.0,486.1 C807.8,507.6 866.7,544.4 886.0,556.0" stroke="#000" stroke-width="0.8" fill="none"/>
<path d="M670.2,422.8 L770.0,479.6" stroke="#000" stroke-width="0.8" fill="none"/>
<path d="M563.1,437.0 L966.0,668.0" stroke="#000" stroke-width="0.9" fill="none"/>
<path d="M566.0,442.0 L966.0,671.3" stroke="#000" stroke-width="0.8" fill="none"/>
<path d="M898.0,563.8 C900.6,563.8 907.3,565.1 912.8,571.2 C918.3,577.3 926.6,592.6 931.2,600.6 C935.8,608.6 939.8,613.5 940.4,619.0 C941.0,624.5 937.7,631.2 934.9,633.7 C932.1,636.2 927.5,636.8 923.8,633.7 C920.1,630.6 916.5,623.3 912.8,615.3 C909.1,607.3 904.4,593.3 901.8,585.9 C899.2,578.5 897.6,574.7 897.0,571.0 C896.4,567.3 895.4,563.8 898.0,563.8 Z" stroke="#000" stroke-width="0.9" fill="none"/>
<path d="M902.0,570.0 C904.3,573.3 911.7,583.0 916.0,590.0 C920.3,597.0 925.3,605.7 928.0,612.0 C930.7,618.3 931.3,625.3 932.0,628.0" stroke="#000" stroke-width="0.8" fill="none"/>
<path d="M571.8,447.8 L579.8,452.4 L579.8,457.6 L571.8,453.0 Z" stroke="#000" stroke-width="0.8" fill="none"/>
<path d="M571.8,447.8 L571.8,453.0" stroke="#000" stroke-width="1.8" fill="none"/>
<path d="M598.0,462.9 L606.0,467.5 L606.0,472.7 L598.0,468.1 Z" stroke="#000" stroke-width="0.8" fill="none"/>
<path d="M598.0,462.9 L598.0,468.1" stroke="#000" stroke-width="1.8" fill="none"/>
<path d="M624.2,477.9 L632.2,482.5 L632.2,487.7 L624.2,483.1 Z" stroke="#000" stroke-width="0.8" fill="none"/>
<path d="M624.2,477.9 L624.2,483.1" stroke="#000" stroke-width="1.8" fill="none"/>
<path d="M650.4,492.9 L658.4,497.5 L658.4,502.7 L650.4,498.1 Z" stroke="#000" stroke-width="0.8" fill="none"/>
<path d="M650.4,492.9 L650.4,498.1" stroke="#000" stroke-width="1.8" fill="none"/>
<path d="M676.6,507.9 L684.6,512.5 L684.6,517.7 L676.6,513.1 Z" stroke="#000" stroke-width="0.8" fill="none"/>
<path d="M676.6,507.9 L676.6,513.1" stroke="#000" stroke-width="1.8" fill="none"/>
<path d="M702.8,522.9 L710.8,527.5 L710.8,532.7 L702.8,528.1 Z" stroke="#000" stroke-width="0.8" fill="none"/>
<path d="M702.8,522.9 L702.8,528.1" stroke="#000" stroke-width="1.8" fill="none"/>
<path d="M729.0,538.0 L737.0,542.6 L737.0,547.8 L729.0,543.2 Z" stroke="#000" stroke-width="0.8" fill="none"/>
<path d="M729.0,538.0 L729.0,543.2" stroke="#000" stroke-width="1.8" fill="none"/>
<path d="M755.2,553.0 L763.2,557.6 L763.2,562.8 L755.2,558.2 Z" stroke="#000" stroke-width="0.8" fill="none"/>
<path d="M755.2,553.0 L755.2,558.2" stroke="#000" stroke-width="1.8" fill="none"/>
<path d="M781.4,568.0 L789.4,572.6 L789.4,577.8 L781.4,573.2 Z" stroke="#000" stroke-width="0.8" fill="none"/>
<path d="M781.4,568.0 L781.4,573.2" stroke="#000" stroke-width="1.8" fill="none"/>
<path d="M807.6,583.0 L815.6,587.6 L815.6,592.8 L807.6,588.2 Z" stroke="#000" stroke-width="0.8" fill="none"/>
<path d="M807.6,583.0 L807.6,588.2" stroke="#000" stroke-width="1.8" fill="none"/>
<path d="M833.8,598.0 L841.8,602.6 L841.8,607.8 L833.8,603.2 Z" stroke="#000" stroke-width="0.8" fill="none"/>
<path d="M833.8,598.0 L833.8,603.2" stroke="#000" stroke-width="1.8" fill="none"/>
<path d="M860.0,613.1 L868.0,617.7 L868.0,622.9 L860.0,618.3 Z" stroke="#000" stroke-width="0.8" fill="none"/>
<path d="M860.0,613.1 L860.0,618.3" stroke="#000" stroke-width="1.8" fill="none"/>
<path d="M886.2,628.1 L894.2,632.7 L894.2,637.9 L886.2,633.3 Z" stroke="#000" stroke-width="0.8" fill="none"/>
<path d="M886.2,628.1 L886.2,633.3" stroke="#000" stroke-width="1.8" fill="none"/>
<path d="M912.4,643.1 L920.4,647.7 L920.4,652.9 L912.4,648.3 Z" stroke="#000" stroke-width="0.8" fill="none"/>
<path d="M912.4,643.1 L912.4,648.3" stroke="#000" stroke-width="1.8" fill="none"/>
<path d="M938.6,658.1 L946.6,662.7 L946.6,667.9 L938.6,663.3 Z" stroke="#000" stroke-width="0.8" fill="none"/>
<path d="M938.6,658.1 L938.6,663.3" stroke="#000" stroke-width="1.8" fill="none"/>
<circle cx="588.0" cy="298.2" r="1.2" stroke="#000" stroke-width="0.7" fill="none"/>
<circle cx="577.8" cy="407.0" r="1.2" stroke="#000" stroke-width="0.7" fill="none"/>
<circle cx="644.9" cy="317.2" r="1.2" stroke="#000" stroke-width="0.7" fill="none"/>
<circle cx="937.0" cy="498.9" r="1.2" stroke="#000" stroke-width="0.7" fill="none"/>
<circle cx="946.0" cy="620.0" r="1.2" stroke="#000" stroke-width="0.7" fill="none"/>
<path d="M740.0,350.0 L755.9,334.2 L767.5,341.1 L751.2,355.0 Z" stroke="#000" stroke-width="0.8" fill="none"/>
<path d="M744.0,352.0 L759.0,337.0" stroke="#000" stroke-width="0.7" fill="none"/>
<path d="M748.0,354.0 L763.0,339.0" stroke="#000" stroke-width="0.7" fill="none"/>
</g>
<g id="p2">
<path d="M425.5,503.7 L834,739.1 L836,860.5 M428.3,628.8 L425.5,503.7" stroke="#000" stroke-width="2.2" fill="none"/>
<path d="M428.3,628.8 C430.9,630.2 439.5,634.7 444.1,637.3 C448.8,639.9 453.8,642.5 456.2,644.5 C458.6,646.5 456.2,647.7 458.6,649.3 C461.0,650.9 466.7,652.6 470.7,654.2 C474.7,655.8 478.0,656.6 482.8,659.0 C487.6,661.4 496.1,666.3 499.7,668.7 C503.3,671.1 501.7,671.9 504.5,673.5 C507.3,675.1 510.6,675.5 516.6,678.3 C522.6,681.1 534.3,686.8 540.7,690.4 C547.1,694.0 548.7,696.4 555.2,700.0 C561.8,703.6 570.9,706.3 580.0,712.0 C589.1,717.7 600.0,727.5 610.0,734.0 C620.0,740.5 632.5,746.6 640.0,751.1 C647.5,755.6 649.7,758.3 655.2,761.3 C660.7,764.2 669.1,766.3 672.9,768.8 C676.7,771.3 672.8,773.0 677.9,776.4 C683.0,779.8 696.9,785.7 703.2,789.1 C709.5,792.5 710.8,794.1 715.9,796.6 C721.0,799.1 728.5,801.7 733.6,804.2 C738.7,806.7 740.7,808.8 746.2,811.8 C751.7,814.8 759.7,817.7 766.4,821.9 C773.1,826.1 779.0,832.9 786.6,837.1 C794.2,841.3 803.7,843.3 811.9,847.2 C820.1,851.1 832.0,858.3 836.0,860.5" stroke="#000" stroke-width="2" fill="none"/>
<path d="M431,512.9 L826,739.5 L826.5,744.5 L431,517.5 Z" stroke="#000" stroke-width="0.8" fill="url(#hatchl)"/>
<path d="M430.0,525.8 L831.6,754.7" stroke="#000" stroke-width="0.9" fill="none"/>
<path d="M427.4,608.0 L831.6,836.8" stroke="#000" stroke-width="0.9" fill="none"/>
<path d="M429.2,525.8 C429.3,533.2 429.9,556.2 430.0,570.0 C430.1,583.8 430.1,602.1 430.1,608.5" stroke="#000" stroke-width="0.8" fill="none"/>
<path d="M431.5,527.0 C431.6,534.2 432.2,556.4 432.3,570.0 C432.4,583.6 432.4,602.1 432.4,608.5" stroke="#000" stroke-width="0.8" fill="none"/>
<path d="M829.7,754.0 C829.9,761.7 830.5,786.2 831.0,800.0 C831.5,813.8 832.3,830.7 832.6,836.8" stroke="#000" stroke-width="0.8" fill="none"/>
<path d="M447.6,619.6 L447.6,636.0" stroke="#000" stroke-width="0.85" fill="none"/>
<path d="M814.0,831.0 L815.0,850.5" stroke="#000" stroke-width="0.85" fill="none"/>
<ellipse cx="473.3" cy="646.2" rx="4.5" ry="5.5" transform="rotate(-10.0 473.3 646.2)" stroke="#000" stroke-width="0.9" fill="none"/>
<ellipse cx="787.7" cy="828.0" rx="5.5" ry="6.5" transform="rotate(-10.0 787.7 828.0)" stroke="#000" stroke-width="0.9" fill="none"/>
<circle cx="456.8" cy="536.8" r="1.3" stroke="#000" stroke-width="0.7" fill="none"/>
<circle cx="446.7" cy="590.1" r="1.3" stroke="#000" stroke-width="0.7" fill="none"/>
<circle cx="803.3" cy="737.1" r="1.3" stroke="#000" stroke-width="0.7" fill="none"/>
<circle cx="814.0" cy="802.6" r="1.3" stroke="#000" stroke-width="0.7" fill="none"/>
<path d="M456,600 L469.7,586.5 L475.2,588.3 L475.2,601.2 L460.5,612.2 L456.8,614 Z" stroke="#000" stroke-width="0.8" fill="url(#hatchl)"/>
<path d="M765.2,774.3 L792.5,770.4 L792.5,784 L767.1,789.9 Z" stroke="#000" stroke-width="0.8" fill="url(#hatchl)"/>
<path d="M443.9,519.9 L443.9,525.9" stroke="#000" stroke-width="0.9" fill="none"/>
<path d="M470.6,535.2 L470.6,541.2" stroke="#000" stroke-width="0.9" fill="none"/>
<path d="M497.3,550.5 L497.3,556.5" stroke="#000" stroke-width="0.9" fill="none"/>
<path d="M524.0,565.8 L524.0,571.8" stroke="#000" stroke-width="0.9" fill="none"/>
<path d="M550.7,581.1 L550.7,587.1" stroke="#000" stroke-width="0.9" fill="none"/>
<path d="M577.4,596.5 L577.4,602.5" stroke="#000" stroke-width="0.9" fill="none"/>
<path d="M604.1,611.8 L604.1,617.8" stroke="#000" stroke-width="0.9" fill="none"/>
<path d="M630.8,627.1 L630.8,633.1" stroke="#000" stroke-width="0.9" fill="none"/>
<path d="M657.5,642.4 L657.5,648.4" stroke="#000" stroke-width="0.9" fill="none"/>
<path d="M684.2,657.7 L684.2,663.7" stroke="#000" stroke-width="0.9" fill="none"/>
<path d="M710.9,673.0 L710.9,679.0" stroke="#000" stroke-width="0.9" fill="none"/>
<path d="M737.6,688.3 L737.6,694.3" stroke="#000" stroke-width="0.9" fill="none"/>
<path d="M764.3,703.6 L764.3,709.6" stroke="#000" stroke-width="0.9" fill="none"/>
<path d="M791.0,719.0 L791.0,725.0" stroke="#000" stroke-width="0.9" fill="none"/>
<path d="M817.7,734.3 L817.7,740.3" stroke="#000" stroke-width="0.9" fill="none"/>
<g><path d="M462.4,553.4 C463.8,552.0 467.9,551.8 469.6,552.4 C471.3,553.0 472.3,553.2 472.8,557.0 C473.3,560.8 471.1,568.4 472.8,575.2 C474.5,582.0 480.9,593.1 483.1,597.9 C485.3,602.7 485.5,598.6 486.2,604.1 C486.9,609.6 487.5,625.8 487.2,631.0 C486.9,636.2 487.6,636.1 484.1,635.1 C480.7,634.1 470.1,627.2 466.5,624.8 C462.9,622.4 463.2,631.4 462.4,620.7 C461.5,610.0 461.4,571.9 461.4,560.7 C461.4,549.5 461.0,554.8 462.4,553.4 Z" stroke="#000" stroke-width="3.4" fill="none"/>
<path d="M484.1,564.8 C485.1,563.9 486.0,562.4 489.3,563.8 C492.6,565.2 500.9,570.9 503.8,573.1 C506.7,575.3 506.4,565.5 506.9,577.2 C507.4,588.9 507.6,631.9 506.9,643.4 C506.2,654.9 503.9,646.5 502.7,646.5 C501.5,646.5 500.3,649.1 499.6,643.4 C498.9,637.7 500.7,621.0 498.6,612.4 C496.5,603.8 489.8,596.9 487.2,591.7 C484.6,586.5 483.8,585.2 483.1,581.4 C482.4,577.6 482.9,571.8 483.1,569.0 C483.3,566.2 483.1,565.7 484.1,564.8 Z" stroke="#000" stroke-width="3.4" fill="none"/>
<path d="M519.3,584.5 C520.3,583.5 521.2,582.2 524.5,583.4 C527.8,584.6 536.1,589.6 538.9,591.7 C541.6,593.8 540.6,590.6 541.0,595.8 C541.4,601.0 542.7,616.5 541.0,622.7 C539.3,628.9 532.8,627.6 530.7,633.1 C528.6,638.6 529.6,651.5 528.6,655.8 C527.6,660.1 526.0,658.9 524.5,658.9 C523.0,658.9 520.3,667.3 519.3,655.8 C518.3,644.2 518.3,601.5 518.3,589.6 C518.3,577.7 518.3,585.5 519.3,584.5 Z" stroke="#000" stroke-width="3.4" fill="none"/>
<path d="M541.0,637.2 C544.1,638.3 553.9,644.5 557.5,647.5 C561.1,650.5 561.8,650.9 562.7,655.0 C563.6,659.1 563.5,668.7 562.7,672.4 C561.9,676.1 561.6,677.9 558.0,677.0 C554.4,676.1 544.2,669.8 541.0,667.0 C537.8,664.2 539.2,664.3 538.9,660.0 C538.5,655.7 538.5,644.8 538.9,641.0 C539.2,637.2 537.9,636.1 541.0,637.2 Z" stroke="#000" stroke-width="3.4" fill="none"/>
<path d="M557.5,608.3 C558.5,607.4 561.3,606.7 562.7,607.2 C564.1,607.7 565.1,607.8 565.8,611.4 C566.5,615.0 564.8,622.9 566.9,628.9 C569.0,634.9 575.6,643.0 578.2,647.5 C580.8,652.0 581.7,650.3 582.4,655.8 C583.1,661.3 583.1,675.8 582.4,680.6 C581.7,685.4 579.6,684.4 578.2,684.8 C576.8,685.1 575.0,686.2 574.1,682.7 C573.2,679.2 575.5,671.0 573.1,664.1 C570.7,657.2 562.2,646.5 559.6,641.3 C557.0,636.1 558.0,637.9 557.5,633.1 C557.0,628.3 556.5,616.5 556.5,612.4 C556.5,608.3 556.5,609.2 557.5,608.3 Z" stroke="#000" stroke-width="3.4" fill="none"/>
<path d="M573.0,617.0 C573.7,614.3 575.7,614.5 577.0,615.0 C578.3,615.5 580.3,617.2 581.0,620.0 C581.7,622.8 581.7,629.5 581.0,632.0 C580.3,634.5 578.3,635.2 577.0,635.0 C575.7,634.8 573.7,634.0 573.0,631.0 C572.3,628.0 572.3,619.7 573.0,617.0 Z" stroke="#000" stroke-width="3.4" fill="none"/>
<path d="M586.5,622.7 C587.4,621.8 591.3,621.0 592.7,621.7 C594.1,622.4 594.3,615.7 594.8,626.9 C595.3,638.1 596.1,677.9 595.8,688.9 C595.4,699.9 593.9,692.6 592.7,693.0 C591.5,693.4 589.5,702.0 588.6,691.0 C587.7,680.0 587.9,638.3 587.5,626.9 C587.1,615.5 585.6,623.6 586.5,622.7 Z" stroke="#000" stroke-width="3.4" fill="none"/>
<path d="M604.1,633.1 C605.1,632.2 607.8,631.3 609.3,632.0 C610.8,632.7 612.7,633.9 613.4,637.2 C614.1,640.5 611.7,645.8 613.4,651.7 C615.1,657.6 621.3,667.6 623.7,672.4 C626.1,677.2 627.2,673.7 627.9,680.6 C628.6,687.5 628.6,707.5 627.9,713.7 C627.2,719.9 625.1,717.9 623.7,717.9 C622.3,717.9 620.5,717.9 619.6,713.7 C618.8,709.6 620.7,699.9 618.6,693.0 C616.5,686.1 609.6,677.2 607.2,672.4 C604.8,667.6 604.8,670.0 604.1,664.1 C603.4,658.2 603.0,642.4 603.0,637.2 C603.0,632.0 603.1,634.0 604.1,633.1 Z" stroke="#000" stroke-width="3.4" fill="none"/>
<path d="M604.5,682.0 C605.1,679.2 606.8,679.7 608.0,680.0 C609.2,680.3 611.3,681.0 612.0,684.0 C612.7,687.0 612.7,695.2 612.0,698.0 C611.3,700.8 609.2,701.2 608.0,701.0 C606.8,700.8 605.1,700.2 604.5,697.0 C603.9,693.8 603.9,684.8 604.5,682.0 Z" stroke="#000" stroke-width="3.4" fill="none"/>
<path d="M619.6,642.8 C620.5,641.9 619.5,640.3 622.8,641.7 C626.1,643.1 636.0,648.4 639.3,651.0 C642.6,653.6 641.9,654.1 642.4,657.2 C642.9,660.3 643.4,665.8 642.4,669.6 C641.4,673.4 637.4,672.9 636.2,680.0 C635.0,687.1 635.7,705.8 635.2,712.0 C634.7,718.2 634.1,716.5 633.1,717.2 C632.1,717.9 630.0,720.8 629.0,716.0 C628.0,711.2 628.8,696.0 626.9,688.3 C625.0,680.6 619.1,676.5 617.6,669.6 C616.1,662.7 617.3,651.5 617.6,647.0 C617.9,642.5 618.7,643.7 619.6,642.8 Z" stroke="#000" stroke-width="3.4" fill="none"/>
<path d="M625.5,648.0 C626.2,645.2 628.1,646.3 630.0,647.0 C631.9,647.7 635.7,649.2 637.0,652.0 C638.3,654.8 638.5,661.0 638.0,664.0 C637.5,667.0 636.0,670.0 634.0,670.0 C632.0,670.0 627.4,667.7 626.0,664.0 C624.6,660.3 624.8,650.8 625.5,648.0 Z" stroke="#000" stroke-width="3.4" fill="none"/>
<path d="M647.6,659.3 C648.4,658.7 650.6,658.0 652.0,658.5 C653.4,659.0 655.2,657.4 655.8,662.4 C656.4,667.4 658.2,681.6 655.8,688.3 C653.4,695.0 644.0,697.5 641.4,702.7 C638.8,707.9 640.0,715.8 640.3,719.3 C640.6,722.8 643.6,722.4 643.4,723.4 C643.2,724.4 640.5,725.4 639.3,725.0 C638.1,724.6 636.5,725.2 636.0,721.0 C635.5,716.8 634.2,706.0 636.0,700.0 C637.8,694.0 645.2,691.3 647.0,685.0 C648.8,678.7 646.9,666.3 647.0,662.0 C647.1,657.7 646.8,659.9 647.6,659.3 Z" stroke="#000" stroke-width="3.4" fill="none"/>
<path d="M648.6,712.0 C649.2,709.0 650.7,708.7 652.0,709.0 C653.3,709.3 655.7,710.8 656.5,714.0 C657.3,717.2 657.6,725.0 656.9,728.0 C656.2,731.0 653.9,731.9 652.5,731.7 C651.1,731.5 649.2,730.3 648.6,727.0 C648.0,723.7 648.0,715.0 648.6,712.0 Z" stroke="#000" stroke-width="3.4" fill="none"/>
<path d="M664.1,669.6 C664.9,668.7 666.5,668.1 668.0,668.5 C669.5,668.9 672.3,659.8 673.4,671.7 C674.5,683.6 675.0,728.1 674.5,740.0 C674.0,751.9 671.9,743.1 670.3,743.1 C668.7,743.1 666.3,751.5 665.1,740.0 C663.9,728.5 663.3,685.5 663.1,673.8 C662.9,662.1 663.3,670.5 664.1,669.6 Z" stroke="#000" stroke-width="3.4" fill="none"/>
<path d="M679.6,680.0 C680.2,677.3 681.5,677.6 683.0,677.9 C684.5,678.2 687.9,679.0 688.9,682.0 C689.9,685.0 689.7,693.2 688.9,696.0 C688.1,698.8 685.5,698.9 684.0,698.6 C682.5,698.3 680.3,697.1 679.6,694.0 C678.9,690.9 679.0,682.7 679.6,680.0 Z" stroke="#000" stroke-width="3.4" fill="none"/>
<path d="M691.0,684.1 C692.4,681.0 697.4,686.9 699.3,688.3 C701.2,689.7 701.9,688.6 702.4,692.4 C702.9,696.2 704.3,705.8 702.4,711.0 C700.5,716.2 693.2,717.2 691.0,723.4 C688.8,729.6 689.9,743.4 688.9,748.2 C687.9,753.0 686.3,752.4 684.8,752.4 C683.2,752.4 680.5,754.1 679.6,748.2 C678.7,742.3 677.7,724.1 679.6,717.2 C681.5,710.3 689.1,712.4 691.0,706.9 C692.9,701.4 689.6,687.2 691.0,684.1 Z" stroke="#000" stroke-width="3.4" fill="none"/>
<path d="M699.0,729.0 C702.8,730.2 715.8,737.0 720.0,740.0 C724.2,743.0 723.4,743.0 724.1,747.0 C724.8,751.0 724.8,760.4 724.1,764.0 C723.4,767.6 724.0,770.1 720.0,768.9 C716.0,767.7 703.8,760.1 700.0,757.0 C696.2,753.9 697.7,754.0 697.2,750.0 C696.7,746.0 696.9,736.5 697.2,733.0 C697.5,729.5 695.2,727.8 699.0,729.0 Z" stroke="#000" stroke-width="3.4" fill="none"/>
<path d="M717.9,698.6 C719.1,698.1 720.3,697.9 724.1,699.6 C727.9,701.3 737.5,706.3 740.6,708.9 C743.7,711.5 742.4,703.4 742.7,715.1 C743.1,726.8 743.4,768.1 742.7,779.3 C742.0,790.5 740.0,782.4 738.6,782.4 C737.2,782.4 735.3,784.0 734.4,779.3 C733.5,774.6 735.5,761.6 733.4,754.4 C731.3,747.1 724.6,740.3 722.0,735.8 C719.4,731.3 718.8,733.0 717.9,727.5 C717.0,722.0 716.9,707.5 716.9,702.7 C716.9,697.9 716.7,699.1 717.9,698.6 Z" stroke="#000" stroke-width="3.4" fill="none"/>
<path d="M753.5,719.5 C754.3,718.7 753.8,717.0 757.4,718.6 C761.0,720.2 771.6,726.5 775.0,729.3 C778.4,732.1 777.6,731.3 777.9,735.2 C778.2,739.1 779.0,748.2 776.9,752.8 C774.8,757.3 767.3,757.0 765.2,762.5 C763.1,768.0 765.2,781.3 764.2,786.0 C763.2,790.7 760.9,790.6 759.3,790.9 C757.7,791.2 755.5,799.1 754.4,787.9 C753.3,776.7 752.6,734.9 752.5,723.5 C752.4,712.1 752.7,720.3 753.5,719.5 Z" stroke="#000" stroke-width="3.4" fill="none"/>
<path d="M786.7,741.0 C788.0,740.3 791.7,740.0 793.5,741.0 C795.3,742.0 796.8,735.2 797.4,746.9 C798.0,758.6 798.0,800.2 797.4,811.4 C796.8,822.6 796.8,815.3 793.5,814.3 C790.2,813.3 781.0,807.6 777.9,805.5 C774.8,803.4 775.4,808.1 774.9,801.6 C774.4,795.1 772.9,773.6 774.9,766.4 C776.9,759.2 784.9,762.2 786.7,758.6 C788.5,755.0 785.7,747.9 785.7,745.0 C785.7,742.1 785.4,741.7 786.7,741.0 Z" stroke="#000" stroke-width="3.4" fill="none"/>
<path d="M462.4,553.4 C463.8,552.0 467.9,551.8 469.6,552.4 C471.3,553.0 472.3,553.2 472.8,557.0 C473.3,560.8 471.1,568.4 472.8,575.2 C474.5,582.0 480.9,593.1 483.1,597.9 C485.3,602.7 485.5,598.6 486.2,604.1 C486.9,609.6 487.5,625.8 487.2,631.0 C486.9,636.2 487.6,636.1 484.1,635.1 C480.7,634.1 470.1,627.2 466.5,624.8 C462.9,622.4 463.2,631.4 462.4,620.7 C461.5,610.0 461.4,571.9 461.4,560.7 C461.4,549.5 461.0,554.8 462.4,553.4 Z" stroke="#fff" stroke-width="1.6" fill="none"/>
<path d="M484.1,564.8 C485.1,563.9 486.0,562.4 489.3,563.8 C492.6,565.2 500.9,570.9 503.8,573.1 C506.7,575.3 506.4,565.5 506.9,577.2 C507.4,588.9 507.6,631.9 506.9,643.4 C506.2,654.9 503.9,646.5 502.7,646.5 C501.5,646.5 500.3,649.1 499.6,643.4 C498.9,637.7 500.7,621.0 498.6,612.4 C496.5,603.8 489.8,596.9 487.2,591.7 C484.6,586.5 483.8,585.2 483.1,581.4 C482.4,577.6 482.9,571.8 483.1,569.0 C483.3,566.2 483.1,565.7 484.1,564.8 Z" stroke="#fff" stroke-width="1.6" fill="none"/>
<path d="M519.3,584.5 C520.3,583.5 521.2,582.2 524.5,583.4 C527.8,584.6 536.1,589.6 538.9,591.7 C541.6,593.8 540.6,590.6 541.0,595.8 C541.4,601.0 542.7,616.5 541.0,622.7 C539.3,628.9 532.8,627.6 530.7,633.1 C528.6,638.6 529.6,651.5 528.6,655.8 C527.6,660.1 526.0,658.9 524.5,658.9 C523.0,658.9 520.3,667.3 519.3,655.8 C518.3,644.2 518.3,601.5 518.3,589.6 C518.3,577.7 518.3,585.5 519.3,584.5 Z" stroke="#fff" stroke-width="1.6" fill="none"/>
<path d="M541.0,637.2 C544.1,638.3 553.9,644.5 557.5,647.5 C561.1,650.5 561.8,650.9 562.7,655.0 C563.6,659.1 563.5,668.7 562.7,672.4 C561.9,676.1 561.6,677.9 558.0,677.0 C554.4,676.1 544.2,669.8 541.0,667.0 C537.8,664.2 539.2,664.3 538.9,660.0 C538.5,655.7 538.5,644.8 538.9,641.0 C539.2,637.2 537.9,636.1 541.0,637.2 Z" stroke="#fff" stroke-width="1.6" fill="none"/>
<path d="M557.5,608.3 C558.5,607.4 561.3,606.7 562.7,607.2 C564.1,607.7 565.1,607.8 565.8,611.4 C566.5,615.0 564.8,622.9 566.9,628.9 C569.0,634.9 575.6,643.0 578.2,647.5 C580.8,652.0 581.7,650.3 582.4,655.8 C583.1,661.3 583.1,675.8 582.4,680.6 C581.7,685.4 579.6,684.4 578.2,684.8 C576.8,685.1 575.0,686.2 574.1,682.7 C573.2,679.2 575.5,671.0 573.1,664.1 C570.7,657.2 562.2,646.5 559.6,641.3 C557.0,636.1 558.0,637.9 557.5,633.1 C557.0,628.3 556.5,616.5 556.5,612.4 C556.5,608.3 556.5,609.2 557.5,608.3 Z" stroke="#fff" stroke-width="1.6" fill="none"/>
<path d="M573.0,617.0 C573.7,614.3 575.7,614.5 577.0,615.0 C578.3,615.5 580.3,617.2 581.0,620.0 C581.7,622.8 581.7,629.5 581.0,632.0 C580.3,634.5 578.3,635.2 577.0,635.0 C575.7,634.8 573.7,634.0 573.0,631.0 C572.3,628.0 572.3,619.7 573.0,617.0 Z" stroke="#fff" stroke-width="1.6" fill="none"/>
<path d="M586.5,622.7 C587.4,621.8 591.3,621.0 592.7,621.7 C594.1,622.4 594.3,615.7 594.8,626.9 C595.3,638.1 596.1,677.9 595.8,688.9 C595.4,699.9 593.9,692.6 592.7,693.0 C591.5,693.4 589.5,702.0 588.6,691.0 C587.7,680.0 587.9,638.3 587.5,626.9 C587.1,615.5 585.6,623.6 586.5,622.7 Z" stroke="#fff" stroke-width="1.6" fill="none"/>
<path d="M604.1,633.1 C605.1,632.2 607.8,631.3 609.3,632.0 C610.8,632.7 612.7,633.9 613.4,637.2 C614.1,640.5 611.7,645.8 613.4,651.7 C615.1,657.6 621.3,667.6 623.7,672.4 C626.1,677.2 627.2,673.7 627.9,680.6 C628.6,687.5 628.6,707.5 627.9,713.7 C627.2,719.9 625.1,717.9 623.7,717.9 C622.3,717.9 620.5,717.9 619.6,713.7 C618.8,709.6 620.7,699.9 618.6,693.0 C616.5,686.1 609.6,677.2 607.2,672.4 C604.8,667.6 604.8,670.0 604.1,664.1 C603.4,658.2 603.0,642.4 603.0,637.2 C603.0,632.0 603.1,634.0 604.1,633.1 Z" stroke="#fff" stroke-width="1.6" fill="none"/>
<path d="M604.5,682.0 C605.1,679.2 606.8,679.7 608.0,680.0 C609.2,680.3 611.3,681.0 612.0,684.0 C612.7,687.0 612.7,695.2 612.0,698.0 C611.3,700.8 609.2,701.2 608.0,701.0 C606.8,700.8 605.1,700.2 604.5,697.0 C603.9,693.8 603.9,684.8 604.5,682.0 Z" stroke="#fff" stroke-width="1.6" fill="none"/>
<path d="M619.6,642.8 C620.5,641.9 619.5,640.3 622.8,641.7 C626.1,643.1 636.0,648.4 639.3,651.0 C642.6,653.6 641.9,654.1 642.4,657.2 C642.9,660.3 643.4,665.8 642.4,669.6 C641.4,673.4 637.4,672.9 636.2,680.0 C635.0,687.1 635.7,705.8 635.2,712.0 C634.7,718.2 634.1,716.5 633.1,717.2 C632.1,717.9 630.0,720.8 629.0,716.0 C628.0,711.2 628.8,696.0 626.9,688.3 C625.0,680.6 619.1,676.5 617.6,669.6 C616.1,662.7 617.3,651.5 617.6,647.0 C617.9,642.5 618.7,643.7 619.6,642.8 Z" stroke="#fff" stroke-width="1.6" fill="none"/>
<path d="M625.5,648.0 C626.2,645.2 628.1,646.3 630.0,647.0 C631.9,647.7 635.7,649.2 637.0,652.0 C638.3,654.8 638.5,661.0 638.0,664.0 C637.5,667.0 636.0,670.0 634.0,670.0 C632.0,670.0 627.4,667.7 626.0,664.0 C624.6,660.3 624.8,650.8 625.5,648.0 Z" stroke="#fff" stroke-width="1.6" fill="none"/>
<path d="M647.6,659.3 C648.4,658.7 650.6,658.0 652.0,658.5 C653.4,659.0 655.2,657.4 655.8,662.4 C656.4,667.4 658.2,681.6 655.8,688.3 C653.4,695.0 644.0,697.5 641.4,702.7 C638.8,707.9 640.0,715.8 640.3,719.3 C640.6,722.8 643.6,722.4 643.4,723.4 C643.2,724.4 640.5,725.4 639.3,725.0 C638.1,724.6 636.5,725.2 636.0,721.0 C635.5,716.8 634.2,706.0 636.0,700.0 C637.8,694.0 645.2,691.3 647.0,685.0 C648.8,678.7 646.9,666.3 647.0,662.0 C647.1,657.7 646.8,659.9 647.6,659.3 Z" stroke="#fff" stroke-width="1.6" fill="none"/>
<path d="M648.6,712.0 C649.2,709.0 650.7,708.7 652.0,709.0 C653.3,709.3 655.7,710.8 656.5,714.0 C657.3,717.2 657.6,725.0 656.9,728.0 C656.2,731.0 653.9,731.9 652.5,731.7 C651.1,731.5 649.2,730.3 648.6,727.0 C648.0,723.7 648.0,715.0 648.6,712.0 Z" stroke="#fff" stroke-width="1.6" fill="none"/>
<path d="M664.1,669.6 C664.9,668.7 666.5,668.1 668.0,668.5 C669.5,668.9 672.3,659.8 673.4,671.7 C674.5,683.6 675.0,728.1 674.5,740.0 C674.0,751.9 671.9,743.1 670.3,743.1 C668.7,743.1 666.3,751.5 665.1,740.0 C663.9,728.5 663.3,685.5 663.1,673.8 C662.9,662.1 663.3,670.5 664.1,669.6 Z" stroke="#fff" stroke-width="1.6" fill="none"/>
<path d="M679.6,680.0 C680.2,677.3 681.5,677.6 683.0,677.9 C684.5,678.2 687.9,679.0 688.9,682.0 C689.9,685.0 689.7,693.2 688.9,696.0 C688.1,698.8 685.5,698.9 684.0,698.6 C682.5,698.3 680.3,697.1 679.6,694.0 C678.9,690.9 679.0,682.7 679.6,680.0 Z" stroke="#fff" stroke-width="1.6" fill="none"/>
<path d="M691.0,684.1 C692.4,681.0 697.4,686.9 699.3,688.3 C701.2,689.7 701.9,688.6 702.4,692.4 C702.9,696.2 704.3,705.8 702.4,711.0 C700.5,716.2 693.2,717.2 691.0,723.4 C688.8,729.6 689.9,743.4 688.9,748.2 C687.9,753.0 686.3,752.4 684.8,752.4 C683.2,752.4 680.5,754.1 679.6,748.2 C678.7,742.3 677.7,724.1 679.6,717.2 C681.5,710.3 689.1,712.4 691.0,706.9 C692.9,701.4 689.6,687.2 691.0,684.1 Z" stroke="#fff" stroke-width="1.6" fill="none"/>
<path d="M699.0,729.0 C702.8,730.2 715.8,737.0 720.0,740.0 C724.2,743.0 723.4,743.0 724.1,747.0 C724.8,751.0 724.8,760.4 724.1,764.0 C723.4,767.6 724.0,770.1 720.0,768.9 C716.0,767.7 703.8,760.1 700.0,757.0 C696.2,753.9 697.7,754.0 697.2,750.0 C696.7,746.0 696.9,736.5 697.2,733.0 C697.5,729.5 695.2,727.8 699.0,729.0 Z" stroke="#fff" stroke-width="1.6" fill="none"/>
<path d="M717.9,698.6 C719.1,698.1 720.3,697.9 724.1,699.6 C727.9,701.3 737.5,706.3 740.6,708.9 C743.7,711.5 742.4,703.4 742.7,715.1 C743.1,726.8 743.4,768.1 742.7,779.3 C742.0,790.5 740.0,782.4 738.6,782.4 C737.2,782.4 735.3,784.0 734.4,779.3 C733.5,774.6 735.5,761.6 733.4,754.4 C731.3,747.1 724.6,740.3 722.0,735.8 C719.4,731.3 718.8,733.0 717.9,727.5 C717.0,722.0 716.9,707.5 716.9,702.7 C716.9,697.9 716.7,699.1 717.9,698.6 Z" stroke="#fff" stroke-width="1.6" fill="none"/>
<path d="M753.5,719.5 C754.3,718.7 753.8,717.0 757.4,718.6 C761.0,720.2 771.6,726.5 775.0,729.3 C778.4,732.1 777.6,731.3 777.9,735.2 C778.2,739.1 779.0,748.2 776.9,752.8 C774.8,757.3 767.3,757.0 765.2,762.5 C763.1,768.0 765.2,781.3 764.2,786.0 C763.2,790.7 760.9,790.6 759.3,790.9 C757.7,791.2 755.5,799.1 754.4,787.9 C753.3,776.7 752.6,734.9 752.5,723.5 C752.4,712.1 752.7,720.3 753.5,719.5 Z" stroke="#fff" stroke-width="1.6" fill="none"/>
<path d="M786.7,741.0 C788.0,740.3 791.7,740.0 793.5,741.0 C795.3,742.0 796.8,735.2 797.4,746.9 C798.0,758.6 798.0,800.2 797.4,811.4 C796.8,822.6 796.8,815.3 793.5,814.3 C790.2,813.3 781.0,807.6 777.9,805.5 C774.8,803.4 775.4,808.1 774.9,801.6 C774.4,795.1 772.9,773.6 774.9,766.4 C776.9,759.2 784.9,762.2 786.7,758.6 C788.5,755.0 785.7,747.9 785.7,745.0 C785.7,742.1 785.4,741.7 786.7,741.0 Z" stroke="#fff" stroke-width="1.6" fill="none"/></g>
</g>
<g id="misc">
<path d="M741.0,166.5 L798.5,166.5 L840.0,189.0" stroke="#000" stroke-width="1.1" fill="none"/>
<path d="M461.0,395.5 L518.0,395.5 L557.0,416.5" stroke="#000" stroke-width="1.1" fill="none"/>
<path d="M328.0,550.0 L384.0,550.0 L425.0,572.0" stroke="#000" stroke-width="1.1" fill="none"/>
<path d="M830.5,210.6 L704.0,284.0" stroke="#000" stroke-width="1.3" fill="none" stroke-dasharray="19,4,4,4"/>
<path d="M934.8,661.0 L819.3,727.4" stroke="#000" stroke-width="1.3" fill="none" stroke-dasharray="19,4,4,4"/>
</g>
<rect x="434.8" y="366.8" width="18.1" height="33.2" fill="#ef8a8a" stroke="none"/>
<path d="M444,368.9 L449,368.9 L449,396 L443.9,396 L443.9,376.7 Q440,379 436.2,380.4 L436.2,375.8 Q441.5,373.5 444,368.9 Z" fill="#781410" stroke="none"/>
<text class="t" x="299.5" y="551.2" fill="#000" stroke="none">2</text>
<text class="t" x="712" y="167.4" fill="#000" stroke="none">3</text>
</svg>
</body></html>
